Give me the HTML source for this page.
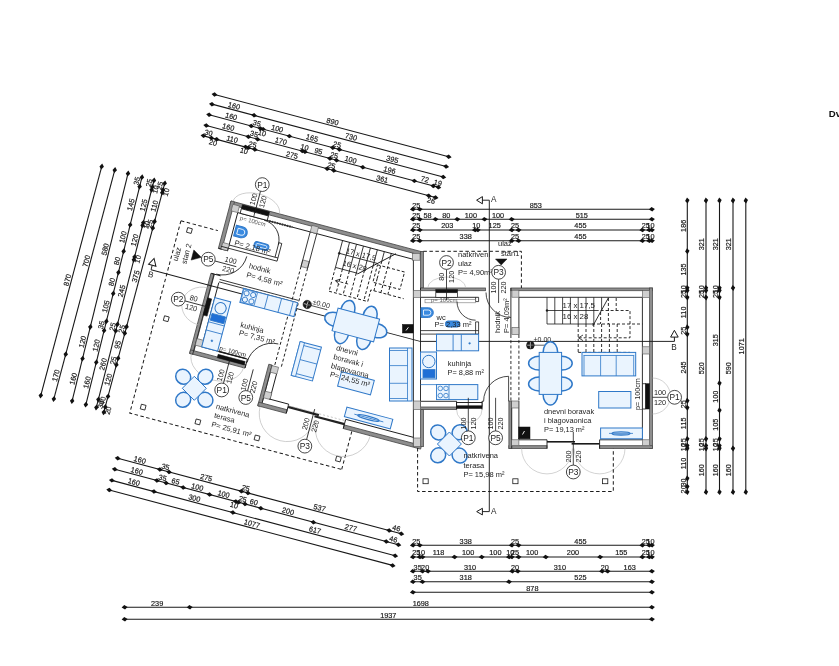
<!DOCTYPE html>
<html><head><meta charset="utf-8"><style>
html,body{margin:0;padding:0;background:#fff;overflow:hidden}
svg{display:block;will-change:transform}
text{font-family:"Liberation Sans",sans-serif}
</style></head><body>
<svg width="839" height="666" viewBox="0 0 839 666" font-family="Liberation Sans, sans-serif"><rect width="839" height="666" fill="#fff"/><g transform="translate(231.0 201.0) rotate(14.9)"><line x1="-43.3" y1="-98.7" x2="198.96" y2="-98.7" stroke="#181818" stroke-width="1.1"/><polygon points="-46.3,-98.4 -43.7,-100.9 -40.3,-99 -42.9,-96.5" fill="#111" stroke="none" stroke-width="0"/><polygon points="195.96,-98.4 198.56,-100.9 201.96,-99 199.36,-96.5" fill="#111" stroke="none" stroke-width="0"/><text x="77.83" y="-100.3" font-size="7.3" fill="#1a1a1a" text-anchor="middle" font-weight="normal" stroke="#1a1a1a" stroke-width="0.18">890</text><line x1="-43.3" y1="-88.7" x2="198.96" y2="-88.7" stroke="#181818" stroke-width="1.1"/><polygon points="-46.3,-88.4 -43.7,-90.9 -40.3,-89 -42.9,-86.5" fill="#111" stroke="none" stroke-width="0"/><polygon points="-2.75,-88.4 -0.15,-90.9 3.25,-89 0.65,-86.5" fill="#111" stroke="none" stroke-width="0"/><polygon points="195.96,-88.4 198.56,-90.9 201.96,-89 199.36,-86.5" fill="#111" stroke="none" stroke-width="0"/><text x="-21.52" y="-90.3" font-size="7.3" fill="#1a1a1a" text-anchor="middle" font-weight="normal" stroke="#1a1a1a" stroke-width="0.18">160</text><text x="99.61" y="-90.3" font-size="7.3" fill="#1a1a1a" text-anchor="middle" font-weight="normal" stroke="#1a1a1a" stroke-width="0.18">730</text><line x1="-43.3" y1="-77.7" x2="198.96" y2="-77.7" stroke="#181818" stroke-width="1.1"/><polygon points="-46.3,-77.4 -43.7,-79.9 -40.3,-78 -42.9,-75.5" fill="#111" stroke="none" stroke-width="0"/><polygon points="-2.75,-77.4 -0.15,-79.9 3.25,-78 0.65,-75.5" fill="#111" stroke="none" stroke-width="0"/><polygon points="6.78,-77.4 9.38,-79.9 12.78,-78 10.18,-75.5" fill="#111" stroke="none" stroke-width="0"/><polygon points="9.5,-77.4 12.1,-79.9 15.5,-78 12.9,-75.5" fill="#111" stroke="none" stroke-width="0"/><polygon points="36.72,-77.4 39.32,-79.9 42.72,-78 40.12,-75.5" fill="#111" stroke="none" stroke-width="0"/><polygon points="81.63,-77.4 84.23,-79.9 87.63,-78 85.03,-75.5" fill="#111" stroke="none" stroke-width="0"/><polygon points="88.44,-77.4 91.04,-79.9 94.44,-78 91.84,-75.5" fill="#111" stroke="none" stroke-width="0"/><polygon points="195.96,-77.4 198.56,-79.9 201.96,-78 199.36,-75.5" fill="#111" stroke="none" stroke-width="0"/><text x="-21.52" y="-79.3" font-size="7.3" fill="#1a1a1a" text-anchor="middle" font-weight="normal" stroke="#1a1a1a" stroke-width="0.18">160</text><text x="5.02" y="-79.3" font-size="7.3" fill="#1a1a1a" text-anchor="middle" font-weight="normal" stroke="#1a1a1a" stroke-width="0.18">35</text><text x="12.64" y="-71.2" font-size="7.3" fill="#1a1a1a" text-anchor="middle" font-weight="normal" stroke="#1a1a1a" stroke-width="0.18">10</text><text x="26.11" y="-79.3" font-size="7.3" fill="#1a1a1a" text-anchor="middle" font-weight="normal" stroke="#1a1a1a" stroke-width="0.18">100</text><text x="62.18" y="-79.3" font-size="7.3" fill="#1a1a1a" text-anchor="middle" font-weight="normal" stroke="#1a1a1a" stroke-width="0.18">165</text><text x="88.04" y="-79.3" font-size="7.3" fill="#1a1a1a" text-anchor="middle" font-weight="normal" stroke="#1a1a1a" stroke-width="0.18">25</text><text x="145.2" y="-79.3" font-size="7.3" fill="#1a1a1a" text-anchor="middle" font-weight="normal" stroke="#1a1a1a" stroke-width="0.18">395</text><line x1="-43.3" y1="-66.6" x2="196.78" y2="-66.6" stroke="#181818" stroke-width="1.1"/><polygon points="-46.3,-66.3 -43.7,-68.8 -40.3,-66.9 -42.9,-64.4" fill="#111" stroke="none" stroke-width="0"/><polygon points="-2.75,-66.3 -0.15,-68.8 3.25,-66.9 0.65,-64.4" fill="#111" stroke="none" stroke-width="0"/><polygon points="6.78,-66.3 9.38,-68.8 12.78,-66.9 10.18,-64.4" fill="#111" stroke="none" stroke-width="0"/><polygon points="53.05,-66.3 55.65,-68.8 59.05,-66.9 56.45,-64.4" fill="#111" stroke="none" stroke-width="0"/><polygon points="55.78,-66.3 58.38,-68.8 61.78,-66.9 59.18,-64.4" fill="#111" stroke="none" stroke-width="0"/><polygon points="81.63,-66.3 84.23,-68.8 87.63,-66.9 85.03,-64.4" fill="#111" stroke="none" stroke-width="0"/><polygon points="88.44,-66.3 91.04,-68.8 94.44,-66.9 91.84,-64.4" fill="#111" stroke="none" stroke-width="0"/><polygon points="115.66,-66.3 118.26,-68.8 121.66,-66.9 119.06,-64.4" fill="#111" stroke="none" stroke-width="0"/><polygon points="169.01,-66.3 171.61,-68.8 175.01,-66.9 172.41,-64.4" fill="#111" stroke="none" stroke-width="0"/><polygon points="188.61,-66.3 191.21,-68.8 194.61,-66.9 192.01,-64.4" fill="#111" stroke="none" stroke-width="0"/><polygon points="193.78,-66.3 196.38,-68.8 199.78,-66.9 197.18,-64.4" fill="#111" stroke="none" stroke-width="0"/><text x="-21.52" y="-68.2" font-size="7.3" fill="#1a1a1a" text-anchor="middle" font-weight="normal" stroke="#1a1a1a" stroke-width="0.18">160</text><text x="5.02" y="-68.2" font-size="7.3" fill="#1a1a1a" text-anchor="middle" font-weight="normal" stroke="#1a1a1a" stroke-width="0.18">35</text><text x="32.92" y="-68.2" font-size="7.3" fill="#1a1a1a" text-anchor="middle" font-weight="normal" stroke="#1a1a1a" stroke-width="0.18">170</text><text x="57.41" y="-68.2" font-size="7.3" fill="#1a1a1a" text-anchor="middle" font-weight="normal" stroke="#1a1a1a" stroke-width="0.18">10</text><text x="71.7" y="-68.2" font-size="7.3" fill="#1a1a1a" text-anchor="middle" font-weight="normal" stroke="#1a1a1a" stroke-width="0.18">95</text><text x="88.04" y="-68.2" font-size="7.3" fill="#1a1a1a" text-anchor="middle" font-weight="normal" stroke="#1a1a1a" stroke-width="0.18">25</text><text x="105.05" y="-68.2" font-size="7.3" fill="#1a1a1a" text-anchor="middle" font-weight="normal" stroke="#1a1a1a" stroke-width="0.18">100</text><text x="145.33" y="-68.2" font-size="7.3" fill="#1a1a1a" text-anchor="middle" font-weight="normal" stroke="#1a1a1a" stroke-width="0.18">196</text><text x="181.81" y="-68.2" font-size="7.3" fill="#1a1a1a" text-anchor="middle" font-weight="normal" stroke="#1a1a1a" stroke-width="0.18">72</text><text x="195.19" y="-68.2" font-size="7.3" fill="#1a1a1a" text-anchor="middle" font-weight="normal" stroke="#1a1a1a" stroke-width="0.18">19</text><line x1="-43.3" y1="-55.9" x2="196.78" y2="-55.9" stroke="#181818" stroke-width="1.1"/><polygon points="-46.3,-55.6 -43.7,-58.1 -40.3,-56.2 -42.9,-53.7" fill="#111" stroke="none" stroke-width="0"/><polygon points="-38.13,-55.6 -35.53,-58.1 -32.13,-56.2 -34.73,-53.7" fill="#111" stroke="none" stroke-width="0"/><polygon points="-32.69,-55.6 -30.09,-58.1 -26.69,-56.2 -29.29,-53.7" fill="#111" stroke="none" stroke-width="0"/><polygon points="-2.75,-55.6 -0.15,-58.1 3.25,-56.2 0.65,-53.7" fill="#111" stroke="none" stroke-width="0"/><polygon points="-0.03,-55.6 2.57,-58.1 5.97,-56.2 3.37,-53.7" fill="#111" stroke="none" stroke-width="0"/><polygon points="6.78,-55.6 9.38,-58.1 12.78,-56.2 10.18,-53.7" fill="#111" stroke="none" stroke-width="0"/><polygon points="81.63,-55.6 84.23,-58.1 87.63,-56.2 85.03,-53.7" fill="#111" stroke="none" stroke-width="0"/><polygon points="88.44,-55.6 91.04,-58.1 94.44,-56.2 91.84,-53.7" fill="#111" stroke="none" stroke-width="0"/><polygon points="186.7,-55.6 189.3,-58.1 192.7,-56.2 190.1,-53.7" fill="#111" stroke="none" stroke-width="0"/><polygon points="193.78,-55.6 196.38,-58.1 199.78,-56.2 197.18,-53.7" fill="#111" stroke="none" stroke-width="0"/><text x="-39.22" y="-57.5" font-size="7.3" fill="#1a1a1a" text-anchor="middle" font-weight="normal" stroke="#1a1a1a" stroke-width="0.18">30</text><text x="-32.41" y="-49.4" font-size="7.3" fill="#1a1a1a" text-anchor="middle" font-weight="normal" stroke="#1a1a1a" stroke-width="0.18">20</text><text x="-14.72" y="-57.5" font-size="7.3" fill="#1a1a1a" text-anchor="middle" font-weight="normal" stroke="#1a1a1a" stroke-width="0.18">110</text><text x="-0.39" y="-49.4" font-size="7.3" fill="#1a1a1a" text-anchor="middle" font-weight="normal" stroke="#1a1a1a" stroke-width="0.18">10</text><text x="6.38" y="-57.5" font-size="7.3" fill="#1a1a1a" text-anchor="middle" font-weight="normal" stroke="#1a1a1a" stroke-width="0.18">25</text><text x="47.21" y="-57.5" font-size="7.3" fill="#1a1a1a" text-anchor="middle" font-weight="normal" stroke="#1a1a1a" stroke-width="0.18">275</text><text x="88.04" y="-57.5" font-size="7.3" fill="#1a1a1a" text-anchor="middle" font-weight="normal" stroke="#1a1a1a" stroke-width="0.18">25</text><text x="140.57" y="-57.5" font-size="7.3" fill="#1a1a1a" text-anchor="middle" font-weight="normal" stroke="#1a1a1a" stroke-width="0.18">361</text><text x="193.24" y="-49.4" font-size="7.3" fill="#1a1a1a" text-anchor="middle" font-weight="normal" stroke="#1a1a1a" stroke-width="0.18">26</text><line x1="-133.8" y1="0" x2="-133.8" y2="236.81" stroke="#181818" stroke-width="1.1"/><polygon points="-134.1,-3 -131.6,-0.4 -133.5,3 -136,0.4" fill="#111" stroke="none" stroke-width="0"/><polygon points="-134.1,233.81 -131.6,236.41 -133.5,239.81 -136,237.21" fill="#111" stroke="none" stroke-width="0"/><text x="-135.4" y="118.41" font-size="7.3" fill="#1a1a1a" text-anchor="middle" font-weight="normal" transform="rotate(-90 -135.4 118.41)" stroke="#1a1a1a" stroke-width="0.18">870</text><line x1="-120.3" y1="0" x2="-120.3" y2="236.81" stroke="#181818" stroke-width="1.1"/><polygon points="-120.6,-3 -118.1,-0.4 -120,3 -122.5,0.4" fill="#111" stroke="none" stroke-width="0"/><polygon points="-120.6,187.54 -118.1,190.14 -120,193.54 -122.5,190.94" fill="#111" stroke="none" stroke-width="0"/><polygon points="-120.6,233.81 -118.1,236.41 -120,239.81 -122.5,237.21" fill="#111" stroke="none" stroke-width="0"/><text x="-121.9" y="95.27" font-size="7.3" fill="#1a1a1a" text-anchor="middle" font-weight="normal" transform="rotate(-90 -121.9 95.27)" stroke="#1a1a1a" stroke-width="0.18">700</text><text x="-121.9" y="213.68" font-size="7.3" fill="#1a1a1a" text-anchor="middle" font-weight="normal" transform="rotate(-90 -121.9 213.68)" stroke="#1a1a1a" stroke-width="0.18">170</text><g transform="rotate(-1.1 -106.6 0)"><line x1="-106.6" y1="0" x2="-106.6" y2="234.09" stroke="#181818" stroke-width="1.1"/><polygon points="-106.9,-3 -104.4,-0.4 -106.3,3 -108.8,0.4" fill="#111" stroke="none" stroke-width="0"/><polygon points="-106.9,154.88 -104.4,157.48 -106.3,160.88 -108.8,158.28" fill="#111" stroke="none" stroke-width="0"/><polygon points="-106.9,187.54 -104.4,190.14 -106.3,193.54 -108.8,190.94" fill="#111" stroke="none" stroke-width="0"/><polygon points="-106.9,231.09 -104.4,233.69 -106.3,237.09 -108.8,234.49" fill="#111" stroke="none" stroke-width="0"/><text x="-108.2" y="78.94" font-size="7.3" fill="#1a1a1a" text-anchor="middle" font-weight="normal" transform="rotate(-90 -108.2 78.94)" stroke="#1a1a1a" stroke-width="0.18">580</text><text x="-108.2" y="174.21" font-size="7.3" fill="#1a1a1a" text-anchor="middle" font-weight="normal" transform="rotate(-90 -108.2 174.21)" stroke="#1a1a1a" stroke-width="0.18">120</text><text x="-108.2" y="212.32" font-size="7.3" fill="#1a1a1a" text-anchor="middle" font-weight="normal" transform="rotate(-90 -108.2 212.32)" stroke="#1a1a1a" stroke-width="0.18">160</text></g><g transform="rotate(-1.05 -92.2 0)"><line x1="-92.2" y1="0" x2="-92.2" y2="234.09" stroke="#181818" stroke-width="1.1"/><polygon points="-92.5,-3 -90,-0.4 -91.9,3 -94.4,0.4" fill="#111" stroke="none" stroke-width="0"/><polygon points="-92.5,6.53 -90,9.13 -91.9,12.53 -94.4,9.93" fill="#111" stroke="none" stroke-width="0"/><polygon points="-92.5,46 -90,48.6 -91.9,52 -94.4,49.4" fill="#111" stroke="none" stroke-width="0"/><polygon points="-92.5,73.22 -90,75.82 -91.9,79.22 -94.4,76.62" fill="#111" stroke="none" stroke-width="0"/><polygon points="-92.5,94.99 -90,97.59 -91.9,100.99 -94.4,98.39" fill="#111" stroke="none" stroke-width="0"/><polygon points="-92.5,116.77 -90,119.37 -91.9,122.77 -94.4,120.17" fill="#111" stroke="none" stroke-width="0"/><polygon points="-92.5,145.35 -90,147.95 -91.9,151.35 -94.4,148.75" fill="#111" stroke="none" stroke-width="0"/><polygon points="-92.5,154.88 -90,157.48 -91.9,160.88 -94.4,158.28" fill="#111" stroke="none" stroke-width="0"/><polygon points="-92.5,187.54 -90,190.14 -91.9,193.54 -94.4,190.94" fill="#111" stroke="none" stroke-width="0"/><polygon points="-92.5,231.09 -90,233.69 -91.9,237.09 -94.4,234.49" fill="#111" stroke="none" stroke-width="0"/><text x="-93.8" y="4.76" font-size="7.3" fill="#1a1a1a" text-anchor="middle" font-weight="normal" transform="rotate(-90 -93.8 4.76)" stroke="#1a1a1a" stroke-width="0.18">35</text><text x="-93.8" y="29.26" font-size="7.3" fill="#1a1a1a" text-anchor="middle" font-weight="normal" transform="rotate(-90 -93.8 29.26)" stroke="#1a1a1a" stroke-width="0.18">145</text><text x="-93.8" y="62.61" font-size="7.3" fill="#1a1a1a" text-anchor="middle" font-weight="normal" transform="rotate(-90 -93.8 62.61)" stroke="#1a1a1a" stroke-width="0.18">100</text><text x="-93.8" y="87.1" font-size="7.3" fill="#1a1a1a" text-anchor="middle" font-weight="normal" transform="rotate(-90 -93.8 87.1)" stroke="#1a1a1a" stroke-width="0.18">80</text><text x="-93.8" y="108.88" font-size="7.3" fill="#1a1a1a" text-anchor="middle" font-weight="normal" transform="rotate(-90 -93.8 108.88)" stroke="#1a1a1a" stroke-width="0.18">80</text><text x="-93.8" y="134.06" font-size="7.3" fill="#1a1a1a" text-anchor="middle" font-weight="normal" transform="rotate(-90 -93.8 134.06)" stroke="#1a1a1a" stroke-width="0.18">105</text><text x="-93.8" y="153.11" font-size="7.3" fill="#1a1a1a" text-anchor="middle" font-weight="normal" transform="rotate(-90 -93.8 153.11)" stroke="#1a1a1a" stroke-width="0.18">35</text><text x="-93.8" y="174.21" font-size="7.3" fill="#1a1a1a" text-anchor="middle" font-weight="normal" transform="rotate(-90 -93.8 174.21)" stroke="#1a1a1a" stroke-width="0.18">120</text><text x="-93.8" y="212.32" font-size="7.3" fill="#1a1a1a" text-anchor="middle" font-weight="normal" transform="rotate(-90 -93.8 212.32)" stroke="#1a1a1a" stroke-width="0.18">160</text></g><g transform="rotate(-0.65 -79.7 0)"><line x1="-79.7" y1="0" x2="-79.7" y2="234.09" stroke="#181818" stroke-width="1.1"/><polygon points="-80,-3 -77.5,-0.4 -79.4,3 -81.9,0.4" fill="#111" stroke="none" stroke-width="0"/><polygon points="-80,3.8 -77.5,6.4 -79.4,9.8 -81.9,7.21" fill="#111" stroke="none" stroke-width="0"/><polygon points="-80,6.53 -77.5,9.13 -79.4,12.53 -81.9,9.93" fill="#111" stroke="none" stroke-width="0"/><polygon points="-80,40.55 -77.5,43.15 -79.4,46.55 -81.9,43.95" fill="#111" stroke="none" stroke-width="0"/><polygon points="-80,43.27 -77.5,45.87 -79.4,49.27 -81.9,46.67" fill="#111" stroke="none" stroke-width="0"/><polygon points="-80,75.94 -77.5,78.54 -79.4,81.94 -81.9,79.34" fill="#111" stroke="none" stroke-width="0"/><polygon points="-80,78.66 -77.5,81.26 -79.4,84.66 -81.9,82.06" fill="#111" stroke="none" stroke-width="0"/><polygon points="-80,145.35 -77.5,147.95 -79.4,151.35 -81.9,148.75" fill="#111" stroke="none" stroke-width="0"/><polygon points="-80,152.15 -77.5,154.75 -79.4,158.15 -81.9,155.55" fill="#111" stroke="none" stroke-width="0"/><polygon points="-80,222.93 -77.5,225.53 -79.4,228.93 -81.9,226.33" fill="#111" stroke="none" stroke-width="0"/><polygon points="-80,231.09 -77.5,233.69 -79.4,237.09 -81.9,234.49" fill="#111" stroke="none" stroke-width="0"/><text x="-81.3" y="3.4" font-size="7.3" fill="#1a1a1a" text-anchor="middle" font-weight="normal" transform="rotate(-90 -81.3 3.4)" stroke="#1a1a1a" stroke-width="0.18">25</text><text x="-73.5" y="8.17" font-size="7.3" fill="#1a1a1a" text-anchor="middle" font-weight="normal" transform="rotate(-90 -73.5 8.17)" stroke="#1a1a1a" stroke-width="0.18">10</text><text x="-81.3" y="26.54" font-size="7.3" fill="#1a1a1a" text-anchor="middle" font-weight="normal" transform="rotate(-90 -81.3 26.54)" stroke="#1a1a1a" stroke-width="0.18">125</text><text x="-73.5" y="44.91" font-size="7.3" fill="#1a1a1a" text-anchor="middle" font-weight="normal" transform="rotate(-90 -73.5 44.91)" stroke="#1a1a1a" stroke-width="0.18">10</text><text x="-81.3" y="62.61" font-size="7.3" fill="#1a1a1a" text-anchor="middle" font-weight="normal" transform="rotate(-90 -81.3 62.61)" stroke="#1a1a1a" stroke-width="0.18">120</text><text x="-73.5" y="80.3" font-size="7.3" fill="#1a1a1a" text-anchor="middle" font-weight="normal" transform="rotate(-90 -73.5 80.3)" stroke="#1a1a1a" stroke-width="0.18">10</text><text x="-81.3" y="115" font-size="7.3" fill="#1a1a1a" text-anchor="middle" font-weight="normal" transform="rotate(-90 -81.3 115)" stroke="#1a1a1a" stroke-width="0.18">245</text><text x="-81.3" y="151.75" font-size="7.3" fill="#1a1a1a" text-anchor="middle" font-weight="normal" transform="rotate(-90 -81.3 151.75)" stroke="#1a1a1a" stroke-width="0.18">25</text><text x="-81.3" y="190.54" font-size="7.3" fill="#1a1a1a" text-anchor="middle" font-weight="normal" transform="rotate(-90 -81.3 190.54)" stroke="#1a1a1a" stroke-width="0.18">260</text><text x="-73.5" y="230.01" font-size="7.3" fill="#1a1a1a" text-anchor="middle" font-weight="normal" transform="rotate(-90 -73.5 230.01)" stroke="#1a1a1a" stroke-width="0.18">30</text></g><line x1="-68.6" y1="0" x2="-68.6" y2="236.81" stroke="#181818" stroke-width="1.1"/><polygon points="-68.9,-3 -66.4,-0.4 -68.3,3 -70.8,0.4" fill="#111" stroke="none" stroke-width="0"/><polygon points="-68.9,3.8 -66.4,6.4 -68.3,9.8 -70.8,7.21" fill="#111" stroke="none" stroke-width="0"/><polygon points="-68.9,6.53 -66.4,9.13 -68.3,12.53 -70.8,9.93" fill="#111" stroke="none" stroke-width="0"/><polygon points="-68.9,36.47 -66.4,39.07 -68.3,42.47 -70.8,39.87" fill="#111" stroke="none" stroke-width="0"/><polygon points="-68.9,43.27 -66.4,45.87 -68.3,49.27 -70.8,46.67" fill="#111" stroke="none" stroke-width="0"/><polygon points="-68.9,145.35 -66.4,147.95 -68.3,151.35 -70.8,148.75" fill="#111" stroke="none" stroke-width="0"/><polygon points="-68.9,152.15 -66.4,154.75 -68.3,158.15 -70.8,155.55" fill="#111" stroke="none" stroke-width="0"/><polygon points="-68.9,178.01 -66.4,180.61 -68.3,184.01 -70.8,181.41" fill="#111" stroke="none" stroke-width="0"/><polygon points="-68.9,184.82 -66.4,187.42 -68.3,190.82 -70.8,188.22" fill="#111" stroke="none" stroke-width="0"/><polygon points="-68.9,217.48 -66.4,220.08 -68.3,223.48 -70.8,220.88" fill="#111" stroke="none" stroke-width="0"/><polygon points="-68.9,228.37 -66.4,230.97 -68.3,234.37 -70.8,231.77" fill="#111" stroke="none" stroke-width="0"/><polygon points="-68.9,233.81 -66.4,236.41 -68.3,239.81 -70.8,237.21" fill="#111" stroke="none" stroke-width="0"/><text x="-70.2" y="3.4" font-size="7.3" fill="#1a1a1a" text-anchor="middle" font-weight="normal" transform="rotate(-90 -70.2 3.4)" stroke="#1a1a1a" stroke-width="0.18">25</text><text x="-62.4" y="8.17" font-size="7.3" fill="#1a1a1a" text-anchor="middle" font-weight="normal" transform="rotate(-90 -62.4 8.17)" stroke="#1a1a1a" stroke-width="0.18">10</text><text x="-70.2" y="24.5" font-size="7.3" fill="#1a1a1a" text-anchor="middle" font-weight="normal" transform="rotate(-90 -70.2 24.5)" stroke="#1a1a1a" stroke-width="0.18">110</text><text x="-70.2" y="42.87" font-size="7.3" fill="#1a1a1a" text-anchor="middle" font-weight="normal" transform="rotate(-90 -70.2 42.87)" stroke="#1a1a1a" stroke-width="0.18">25</text><text x="-70.2" y="97.31" font-size="7.3" fill="#1a1a1a" text-anchor="middle" font-weight="normal" transform="rotate(-90 -70.2 97.31)" stroke="#1a1a1a" stroke-width="0.18">375</text><text x="-70.2" y="151.75" font-size="7.3" fill="#1a1a1a" text-anchor="middle" font-weight="normal" transform="rotate(-90 -70.2 151.75)" stroke="#1a1a1a" stroke-width="0.18">25</text><text x="-70.2" y="168.08" font-size="7.3" fill="#1a1a1a" text-anchor="middle" font-weight="normal" transform="rotate(-90 -70.2 168.08)" stroke="#1a1a1a" stroke-width="0.18">95</text><text x="-70.2" y="184.42" font-size="7.3" fill="#1a1a1a" text-anchor="middle" font-weight="normal" transform="rotate(-90 -70.2 184.42)" stroke="#1a1a1a" stroke-width="0.18">25</text><text x="-70.2" y="204.15" font-size="7.3" fill="#1a1a1a" text-anchor="middle" font-weight="normal" transform="rotate(-90 -70.2 204.15)" stroke="#1a1a1a" stroke-width="0.18">120</text><text x="-70.2" y="225.93" font-size="7.3" fill="#1a1a1a" text-anchor="middle" font-weight="normal" transform="rotate(-90 -70.2 225.93)" stroke="#1a1a1a" stroke-width="0.18">40</text><text x="-62.4" y="234.09" font-size="7.3" fill="#1a1a1a" text-anchor="middle" font-weight="normal" transform="rotate(-90 -62.4 234.09)" stroke="#1a1a1a" stroke-width="0.18">20</text><line x1="-43.3" y1="277.8" x2="250.13" y2="277.8" stroke="#181818" stroke-width="1.1"/><polygon points="-46.3,278.1 -43.7,275.6 -40.3,277.5 -42.9,280" fill="#111" stroke="none" stroke-width="0"/><polygon points="-2.75,278.1 -0.15,275.6 3.25,277.5 0.65,280" fill="#111" stroke="none" stroke-width="0"/><polygon points="6.78,278.1 9.38,275.6 12.78,277.5 10.18,280" fill="#111" stroke="none" stroke-width="0"/><polygon points="81.63,278.1 84.23,275.6 87.63,277.5 85.03,280" fill="#111" stroke="none" stroke-width="0"/><polygon points="88.44,278.1 91.04,275.6 94.44,277.5 91.84,280" fill="#111" stroke="none" stroke-width="0"/><polygon points="234.61,278.1 237.21,275.6 240.61,277.5 238.01,280" fill="#111" stroke="none" stroke-width="0"/><polygon points="247.13,278.1 249.73,275.6 253.13,277.5 250.53,280" fill="#111" stroke="none" stroke-width="0"/><text x="-21.52" y="276.2" font-size="7.3" fill="#1a1a1a" text-anchor="middle" font-weight="normal" stroke="#1a1a1a" stroke-width="0.18">160</text><text x="5.02" y="276.2" font-size="7.3" fill="#1a1a1a" text-anchor="middle" font-weight="normal" stroke="#1a1a1a" stroke-width="0.18">35</text><text x="47.21" y="276.2" font-size="7.3" fill="#1a1a1a" text-anchor="middle" font-weight="normal" stroke="#1a1a1a" stroke-width="0.18">275</text><text x="88.04" y="276.2" font-size="7.3" fill="#1a1a1a" text-anchor="middle" font-weight="normal" stroke="#1a1a1a" stroke-width="0.18">25</text><text x="164.52" y="276.2" font-size="7.3" fill="#1a1a1a" text-anchor="middle" font-weight="normal" stroke="#1a1a1a" stroke-width="0.18">537</text><text x="243.87" y="276.2" font-size="7.3" fill="#1a1a1a" text-anchor="middle" font-weight="normal" stroke="#1a1a1a" stroke-width="0.18">46</text><line x1="-43.3" y1="289.2" x2="250.13" y2="289.2" stroke="#181818" stroke-width="1.1"/><polygon points="-46.3,289.5 -43.7,287 -40.3,288.9 -42.9,291.4" fill="#111" stroke="none" stroke-width="0"/><polygon points="-2.75,289.5 -0.15,287 3.25,288.9 0.65,291.4" fill="#111" stroke="none" stroke-width="0"/><polygon points="6.78,289.5 9.38,287 12.78,288.9 10.18,291.4" fill="#111" stroke="none" stroke-width="0"/><polygon points="24.47,289.5 27.07,287 30.47,288.9 27.87,291.4" fill="#111" stroke="none" stroke-width="0"/><polygon points="51.69,289.5 54.29,287 57.69,288.9 55.09,291.4" fill="#111" stroke="none" stroke-width="0"/><polygon points="78.91,289.5 81.51,287 84.91,288.9 82.31,291.4" fill="#111" stroke="none" stroke-width="0"/><polygon points="81.63,289.5 84.23,287 87.63,288.9 85.03,291.4" fill="#111" stroke="none" stroke-width="0"/><polygon points="88.44,289.5 91.04,287 94.44,288.9 91.84,291.4" fill="#111" stroke="none" stroke-width="0"/><polygon points="104.77,289.5 107.37,287 110.77,288.9 108.17,291.4" fill="#111" stroke="none" stroke-width="0"/><polygon points="159.21,289.5 161.81,287 165.21,288.9 162.61,291.4" fill="#111" stroke="none" stroke-width="0"/><polygon points="234.61,289.5 237.21,287 240.61,288.9 238.01,291.4" fill="#111" stroke="none" stroke-width="0"/><polygon points="247.13,289.5 249.73,287 253.13,288.9 250.53,291.4" fill="#111" stroke="none" stroke-width="0"/><text x="-21.52" y="287.6" font-size="7.3" fill="#1a1a1a" text-anchor="middle" font-weight="normal" stroke="#1a1a1a" stroke-width="0.18">160</text><text x="5.02" y="287.6" font-size="7.3" fill="#1a1a1a" text-anchor="middle" font-weight="normal" stroke="#1a1a1a" stroke-width="0.18">35</text><text x="18.63" y="287.6" font-size="7.3" fill="#1a1a1a" text-anchor="middle" font-weight="normal" stroke="#1a1a1a" stroke-width="0.18">65</text><text x="41.08" y="287.6" font-size="7.3" fill="#1a1a1a" text-anchor="middle" font-weight="normal" stroke="#1a1a1a" stroke-width="0.18">100</text><text x="68.3" y="287.6" font-size="7.3" fill="#1a1a1a" text-anchor="middle" font-weight="normal" stroke="#1a1a1a" stroke-width="0.18">100</text><text x="81.27" y="295.7" font-size="7.3" fill="#1a1a1a" text-anchor="middle" font-weight="normal" stroke="#1a1a1a" stroke-width="0.18">10</text><text x="88.04" y="287.6" font-size="7.3" fill="#1a1a1a" text-anchor="middle" font-weight="normal" stroke="#1a1a1a" stroke-width="0.18">25</text><text x="99.6" y="287.6" font-size="7.3" fill="#1a1a1a" text-anchor="middle" font-weight="normal" stroke="#1a1a1a" stroke-width="0.18">60</text><text x="134.99" y="287.6" font-size="7.3" fill="#1a1a1a" text-anchor="middle" font-weight="normal" stroke="#1a1a1a" stroke-width="0.18">200</text><text x="199.91" y="287.6" font-size="7.3" fill="#1a1a1a" text-anchor="middle" font-weight="normal" stroke="#1a1a1a" stroke-width="0.18">277</text><text x="243.87" y="287.6" font-size="7.3" fill="#1a1a1a" text-anchor="middle" font-weight="normal" stroke="#1a1a1a" stroke-width="0.18">46</text><line x1="-43.3" y1="300.6" x2="249.86" y2="300.6" stroke="#181818" stroke-width="1.1"/><polygon points="-46.3,300.9 -43.7,298.4 -40.3,300.3 -42.9,302.8" fill="#111" stroke="none" stroke-width="0"/><polygon points="-2.75,300.9 -0.15,298.4 3.25,300.3 0.65,302.8" fill="#111" stroke="none" stroke-width="0"/><polygon points="78.91,300.9 81.51,298.4 84.91,300.3 82.31,302.8" fill="#111" stroke="none" stroke-width="0"/><polygon points="246.86,300.9 249.46,298.4 252.86,300.3 250.26,302.8" fill="#111" stroke="none" stroke-width="0"/><text x="-21.52" y="299" font-size="7.3" fill="#1a1a1a" text-anchor="middle" font-weight="normal" stroke="#1a1a1a" stroke-width="0.18">160</text><text x="41.08" y="299" font-size="7.3" fill="#1a1a1a" text-anchor="middle" font-weight="normal" stroke="#1a1a1a" stroke-width="0.18">300</text><text x="165.89" y="299" font-size="7.3" fill="#1a1a1a" text-anchor="middle" font-weight="normal" stroke="#1a1a1a" stroke-width="0.18">617</text><line x1="-43.3" y1="310.6" x2="249.86" y2="310.6" stroke="#181818" stroke-width="1.1"/><polygon points="-46.3,310.9 -43.7,308.4 -40.3,310.3 -42.9,312.8" fill="#111" stroke="none" stroke-width="0"/><polygon points="246.86,310.9 249.46,308.4 252.86,310.3 250.26,312.8" fill="#111" stroke="none" stroke-width="0"/><text x="103.28" y="309" font-size="7.3" fill="#1a1a1a" text-anchor="middle" font-weight="normal" stroke="#1a1a1a" stroke-width="0.18">1077</text><polygon points="0,0 198.9,0 196,3.6 0,3.6" fill="#8e8e8e" stroke="#4a4a4a" stroke-width="0.8"/><rect x="0" y="0" width="3.6" height="49" fill="#8e8e8e" stroke="#4a4a4a" stroke-width="0.8"/><rect x="-0.8" y="75" width="3.6" height="83" fill="#8e8e8e" stroke="#4a4a4a" stroke-width="0.8"/><rect x="-0.8" y="154.3" width="57.3" height="3.6" fill="#8e8e8e" stroke="#4a4a4a" stroke-width="0.8"/><rect x="78.5" y="148" width="3.5" height="43" fill="#8e8e8e" stroke="#4a4a4a" stroke-width="0.8"/><line x1="9.5" y1="9.5" x2="191.3" y2="9.5" stroke="#1a1a1a" stroke-width="0.9"/><line x1="9.5" y1="9.5" x2="9.5" y2="46" stroke="#1a1a1a" stroke-width="0.9"/><line x1="2.4" y1="75" x2="2.4" y2="157.7" stroke="#1a1a1a" stroke-width="0.7"/><line x1="9.2" y1="82" x2="9.2" y2="148.5" stroke="#1a1a1a" stroke-width="0.9"/><line x1="9.2" y1="148.5" x2="56.5" y2="148.5" stroke="#1a1a1a" stroke-width="0.9"/><line x1="56.5" y1="148.5" x2="56.5" y2="157.7" stroke="#1a1a1a" stroke-width="0.9"/><line x1="82" y1="148" x2="82" y2="187.3" stroke="#1a1a1a" stroke-width="0.7"/><line x1="88.5" y1="155" x2="88.5" y2="181.5" stroke="#1a1a1a" stroke-width="0.9"/><line x1="0" y1="49" x2="9.5" y2="49" stroke="#1a1a1a" stroke-width="0.9"/><line x1="-0.3" y1="75" x2="9.2" y2="75" stroke="#1a1a1a" stroke-width="0.9"/><rect x="12" y="0.6" width="28" height="4.2" fill="#111" stroke="#111" stroke-width="0.5"/><rect x="12" y="4.8" width="28" height="4.7" fill="#fff" stroke="#111" stroke-width="0.8"/><line x1="26" y1="4.8" x2="26" y2="9.5" stroke="#1a1a1a" stroke-width="0.7"/><line x1="42" y1="9.5" x2="66" y2="9.5" stroke="#333" stroke-width="2.0" stroke-dasharray="1.6,1"/><polygon points="2.4,99.6 6.5,99.6 6.5,117.4 2.4,117.4" fill="#111" stroke="#111" stroke-width="0.5"/><polygon points="27,151.5 55,151.5 55,155 27,155" fill="#111" stroke="#111" stroke-width="0.5"/><line x1="27" y1="148.5" x2="55" y2="148.5" stroke="#1a1a1a" stroke-width="1.4"/><rect x="2.7" y="2.7" width="6.8" height="6.8" fill="#cfcfcf" stroke="#555" stroke-width="0.6"/><rect x="84.5" y="2.7" width="6.8" height="6.8" fill="#cfcfcf" stroke="#555" stroke-width="0.6"/><rect x="84.5" y="38.5" width="6.8" height="6.8" fill="#cfcfcf" stroke="#555" stroke-width="0.6"/><rect x="2.7" y="42.2" width="6.8" height="6.8" fill="#cfcfcf" stroke="#555" stroke-width="0.6"/><rect x="2.5" y="141.7" width="6.8" height="6.8" fill="#cfcfcf" stroke="#555" stroke-width="0.6"/><rect x="82" y="148.5" width="6.8" height="6.8" fill="#cfcfcf" stroke="#555" stroke-width="0.6"/><rect x="82" y="175" width="6.8" height="6.8" fill="#cfcfcf" stroke="#555" stroke-width="0.6"/><line x1="9.5" y1="43" x2="60" y2="43" stroke="#1a1a1a" stroke-width="0.8"/><line x1="2" y1="46.3" x2="60" y2="46.3" stroke="#1a1a1a" stroke-width="0.8"/><line x1="57" y1="28" x2="57" y2="43" stroke="#1a1a1a" stroke-width="0.8"/><line x1="60" y1="28" x2="60" y2="46.3" stroke="#1a1a1a" stroke-width="0.8"/><line x1="57" y1="28" x2="60" y2="28" stroke="#1a1a1a" stroke-width="0.8"/><line x1="84.5" y1="9.5" x2="84.5" y2="45.3" stroke="#1a1a1a" stroke-width="0.8"/><line x1="91.3" y1="9.5" x2="91.3" y2="45.3" stroke="#1a1a1a" stroke-width="0.8"/><line x1="84.5" y1="45.3" x2="84.5" y2="148" stroke="#1a1a1a" stroke-width="0.9" stroke-dasharray="3,2.2"/><line x1="91.3" y1="45.3" x2="91.3" y2="148" stroke="#1a1a1a" stroke-width="0.9" stroke-dasharray="3,2.2"/><line x1="9.2" y1="78.7" x2="90.5" y2="78.7" stroke="#1a1a1a" stroke-width="0.8"/><line x1="9.2" y1="81.2" x2="90.5" y2="81.2" stroke="#1a1a1a" stroke-width="0.8"/><path d="M37,10 A20,20 0 0 1 57,30" fill="none" stroke="#1a1a1a" stroke-width="0.8"/><path d="M29.5,49.5 A25,25 0 0 1 4.5,74.5" fill="none" stroke="#1a1a1a" stroke-width="0.8"/><path d="M57,152 A26,26 0 0 1 82.5,126" fill="none" stroke="#1a1a1a" stroke-width="0.8"/><path d="M2,0 A24,14 0 0 1 50,0" fill="none" stroke="#b5b5b5" stroke-width="0.6"/><path d="M-0.3,90 A21,19 0 0 0 -0.3,128" fill="none" stroke="#b5b5b5" stroke-width="0.6"/><path d="M1,157.7 A27,20 0 0 0 55,157.7" fill="none" stroke="#b5b5b5" stroke-width="0.6"/><line x1="118" y1="9.5" x2="118" y2="37.3" stroke="#1a1a1a" stroke-width="0.8"/><line x1="125.2" y1="9.5" x2="125.2" y2="37.3" stroke="#1a1a1a" stroke-width="0.8"/><line x1="132.4" y1="9.5" x2="132.4" y2="37.3" stroke="#1a1a1a" stroke-width="0.8"/><line x1="139.6" y1="9.5" x2="139.6" y2="37.3" stroke="#1a1a1a" stroke-width="0.8"/><line x1="146.8" y1="9.5" x2="146.8" y2="32.66" stroke="#1a1a1a" stroke-width="0.8"/><line x1="146.8" y1="32.66" x2="146.8" y2="37.3" stroke="#1a1a1a" stroke-width="0.9" stroke-dasharray="3,2"/><line x1="154" y1="9.5" x2="154" y2="26.02" stroke="#1a1a1a" stroke-width="0.8"/><line x1="154" y1="26.02" x2="154" y2="37.3" stroke="#1a1a1a" stroke-width="0.9" stroke-dasharray="3,2"/><line x1="161.2" y1="9.5" x2="161.2" y2="19.38" stroke="#1a1a1a" stroke-width="0.8"/><line x1="161.2" y1="19.38" x2="161.2" y2="37.3" stroke="#1a1a1a" stroke-width="0.9" stroke-dasharray="3,2"/><line x1="168.4" y1="9.5" x2="168.4" y2="12.74" stroke="#1a1a1a" stroke-width="0.8"/><line x1="168.4" y1="12.74" x2="168.4" y2="37.3" stroke="#1a1a1a" stroke-width="0.9" stroke-dasharray="3,2"/><line x1="118" y1="22.7" x2="157.6" y2="22.7" stroke="#1a1a1a" stroke-width="0.8"/><circle cx="118" cy="22.7" r="1.1" fill="#1a1a1a" stroke="#1a1a1a" stroke-width="0.3"/><line x1="118" y1="37.3" x2="141" y2="37.3" stroke="#1a1a1a" stroke-width="0.8"/><line x1="173" y1="8.5" x2="141" y2="38" stroke="#1a1a1a" stroke-width="0.9"/><text x="124" y="20.8" font-size="7.5" fill="#222" text-anchor="start" font-weight="normal">17 x 17,5</text><text x="124" y="33.4" font-size="7.5" fill="#222" text-anchor="start" font-weight="normal">16 x 28</text><line x1="125.2" y1="37.3" x2="125.2" y2="62" stroke="#1a1a1a" stroke-width="0.9" stroke-dasharray="3,2"/><line x1="132.4" y1="37.3" x2="132.4" y2="62" stroke="#1a1a1a" stroke-width="0.9" stroke-dasharray="3,2"/><line x1="139.6" y1="37.3" x2="139.6" y2="62" stroke="#1a1a1a" stroke-width="0.9" stroke-dasharray="3,2"/><line x1="146.8" y1="37.3" x2="146.8" y2="62" stroke="#1a1a1a" stroke-width="0.9" stroke-dasharray="3,2"/><line x1="154" y1="37.3" x2="154" y2="62" stroke="#1a1a1a" stroke-width="0.9" stroke-dasharray="3,2"/><line x1="161.2" y1="37.3" x2="161.2" y2="50" stroke="#1a1a1a" stroke-width="0.9" stroke-dasharray="3,2"/><line x1="168.4" y1="37.3" x2="168.4" y2="50" stroke="#1a1a1a" stroke-width="0.9" stroke-dasharray="3,2"/><line x1="175.6" y1="37.3" x2="175.6" y2="50" stroke="#1a1a1a" stroke-width="0.9" stroke-dasharray="3,2"/><line x1="118" y1="37.3" x2="118" y2="62" stroke="#1a1a1a" stroke-width="0.9" stroke-dasharray="3,2"/><polyline points="118,62 158,62 158,50 192,50" fill="none" stroke="#1a1a1a" stroke-width="0.9" stroke-dasharray="3,2"/><rect x="158" y="24" width="28" height="18" fill="none" stroke="#1a1a1a" stroke-width="0.9" stroke-dasharray="3,2"/><polyline points="126,47.3 121.5,50.1 126,52.9" fill="none" stroke="#1a1a1a" stroke-width="0.8"/><line x1="121.5" y1="50.1" x2="135" y2="50.1" stroke="#1a1a1a" stroke-width="0.8" stroke-dasharray="3,2"/><line x1="-59.6" y1="87" x2="218.8" y2="87" stroke="#1a1a1a" stroke-width="0.95"/><path d="M11.5,22 h7 a5.5,5.5 0 0 1 0,11 h-7 z" fill="#3a8ae0" stroke="#2f78c8" stroke-width="1.0"/><path d="M14,24.5 h4.5 a3,3 0 0 1 0,6 h-4.5 z" fill="none" stroke="#fff" stroke-width="0.8"/><rect x="33.5" y="32.5" width="15" height="6.5" fill="#3a8ae0" stroke="#2f78c8" stroke-width="1.0" rx="2.8"/><rect x="35.5" y="34.2" width="11" height="3.1" fill="none" stroke="#fff" stroke-width="0.7" rx="1.5"/><line x1="9.5" y1="46.3" x2="9.5" y2="49" stroke="#1a1a1a" stroke-width="0.8"/><rect x="9.2" y="97.6" width="16.5" height="51" fill="#eaf4fe" stroke="#2f78c8" stroke-width="1.0"/><circle cx="17.5" cy="106.3" r="5.6" fill="#eaf4fe" stroke="#2f78c8" stroke-width="1.0"/><rect x="10.6" y="113.5" width="14" height="7" fill="#1f6fd6" stroke="#2f78c8" stroke-width="0.8"/><line x1="9.2" y1="122.5" x2="25.7" y2="122.5" stroke="#2f78c8" stroke-width="0.8"/><line x1="9.2" y1="131" x2="25.7" y2="131" stroke="#2f78c8" stroke-width="0.8"/><circle cx="17.5" cy="140" r="0.9" fill="#2f78c8" stroke="#2f78c8" stroke-width="0.5"/><rect x="34.6" y="81.2" width="55.9" height="14.4" fill="#eaf4fe" stroke="#2f78c8" stroke-width="1.0"/><rect x="35.2" y="81.8" width="14" height="13.2" fill="#eaf4fe" stroke="#2f78c8" stroke-width="0.7"/><circle cx="38.8" cy="85.2" r="2.6" fill="#eaf4fe" stroke="#2f78c8" stroke-width="0.9"/><circle cx="45.6" cy="85.2" r="2.6" fill="#eaf4fe" stroke="#2f78c8" stroke-width="0.9"/><circle cx="38.8" cy="91.8" r="2.6" fill="#eaf4fe" stroke="#2f78c8" stroke-width="0.9"/><circle cx="45.6" cy="91.8" r="2.6" fill="#eaf4fe" stroke="#2f78c8" stroke-width="0.9"/><line x1="60" y1="81.2" x2="60" y2="95.6" stroke="#2f78c8" stroke-width="0.8"/><line x1="74" y1="81.2" x2="74" y2="95.6" stroke="#2f78c8" stroke-width="0.8"/><line x1="86" y1="81.2" x2="86" y2="95.6" stroke="#2f78c8" stroke-width="0.8"/><ellipse cx="141" cy="76" rx="7" ry="10.5" fill="#eaf4fe" stroke="#2f78c8" stroke-width="1.5"/><ellipse cx="164" cy="76" rx="7" ry="10.5" fill="#eaf4fe" stroke="#2f78c8" stroke-width="1.5"/><ellipse cx="141" cy="99.4" rx="7" ry="10.5" fill="#eaf4fe" stroke="#2f78c8" stroke-width="1.5"/><ellipse cx="164" cy="99.4" rx="7" ry="10.5" fill="#eaf4fe" stroke="#2f78c8" stroke-width="1.5"/><ellipse cx="131" cy="87.7" rx="10.5" ry="7" fill="#eaf4fe" stroke="#2f78c8" stroke-width="1.5"/><ellipse cx="174" cy="87.7" rx="10.5" ry="7" fill="#eaf4fe" stroke="#2f78c8" stroke-width="1.5"/><rect x="131" y="76" width="43" height="23.4" fill="#eaf4fe" stroke="#2f78c8" stroke-width="1.0"/><rect x="103" y="118" width="22" height="35" fill="#eaf4fe" stroke="#2f78c8" stroke-width="1.0"/><rect x="103" y="118" width="4.5" height="35" fill="#eaf4fe" stroke="#2f78c8" stroke-width="0.8"/><line x1="107.5" y1="135.5" x2="125" y2="135.5" stroke="#2f78c8" stroke-width="0.8"/><line x1="107.5" y1="121" x2="125" y2="121" stroke="#2f78c8" stroke-width="0.8"/><line x1="107.5" y1="150" x2="125" y2="150" stroke="#2f78c8" stroke-width="0.8"/><rect x="150.6" y="136.4" width="34" height="15" fill="#eaf4fe" stroke="#2f78c8" stroke-width="1.0"/><rect x="165" y="169.3" width="47.5" height="10" fill="#eaf4fe" stroke="#2f78c8" stroke-width="1.0"/><ellipse cx="188.6" cy="174.3" rx="11" ry="1.7" fill="#eaf4fe" stroke="#2f78c8" stroke-width="1.3"/><line x1="174" y1="174.3" x2="204" y2="174.3" stroke="#2f78c8" stroke-width="0.8"/><polyline points="-43.3,32 -43.3,231 176,231" fill="none" stroke="#1a1a1a" stroke-width="1.0" stroke-dasharray="3.5,2.5"/><polyline points="-43.3,32 -5,32" fill="none" stroke="#1a1a1a" stroke-width="1.0" stroke-dasharray="3.5,2.5"/><line x1="176" y1="231" x2="176" y2="190" stroke="#1a1a1a" stroke-width="1.0" stroke-dasharray="3.5,2.5"/><rect x="-35" y="36.8" width="4.8" height="4.8" fill="none" stroke="#1a1a1a" stroke-width="0.8"/><rect x="-34.7" y="128" width="4.8" height="4.8" fill="none" stroke="#1a1a1a" stroke-width="0.8"/><rect x="-34.3" y="219.4" width="4.8" height="4.8" fill="none" stroke="#1a1a1a" stroke-width="0.8"/><rect x="22.4" y="219.6" width="4.8" height="4.8" fill="none" stroke="#1a1a1a" stroke-width="0.8"/><rect x="83.7" y="219.9" width="4.8" height="4.8" fill="none" stroke="#1a1a1a" stroke-width="0.8"/><rect x="167.7" y="219.3" width="4.8" height="4.8" fill="none" stroke="#1a1a1a" stroke-width="0.8"/><text x="14.2" y="41.7" font-size="7.5" fill="#242424" text-anchor="start" font-weight="normal">P= 2,18 m²</text><text x="34.1" y="60.2" font-size="7.5" fill="#242424" text-anchor="start" font-weight="normal">hodnik</text><text x="34" y="69.6" font-size="7.5" fill="#242424" text-anchor="start" font-weight="normal">P= 4,58 m²</text><text x="41.1" y="119.4" font-size="7.5" fill="#242424" text-anchor="start" font-weight="normal">kuhinja</text><text x="41.7" y="127.6" font-size="7.5" fill="#242424" text-anchor="start" font-weight="normal">P= 7,35 m²</text><text x="26.7" y="147.1" font-size="6.2" fill="#242424" text-anchor="start" font-weight="normal">p= 100cm</text><text x="13" y="16" font-size="6" fill="#555" text-anchor="start" font-weight="normal">p= 100cm</text><text x="139.5" y="117.1" font-size="7.5" fill="#242424" text-anchor="start" font-weight="normal">dnevni</text><text x="139.2" y="126.5" font-size="7.5" fill="#242424" text-anchor="start" font-weight="normal">boravak i</text><text x="139.1" y="135.8" font-size="7.5" fill="#242424" text-anchor="start" font-weight="normal">blagovaona</text><text x="140.3" y="144.3" font-size="7.5" fill="#242424" text-anchor="start" font-weight="normal">P= 24,55 m²</text><text x="38.3" y="204.6" font-size="7.5" fill="#242424" text-anchor="start" font-weight="normal">natkrivena</text><text x="39.1" y="213.7" font-size="7.5" fill="#242424" text-anchor="start" font-weight="normal">terasa</text><text x="38.6" y="223.1" font-size="7.5" fill="#242424" text-anchor="start" font-weight="normal">P= 25,91 m²</text><text x="-36" y="65.3" font-size="7.6" fill="#242424" text-anchor="middle" font-weight="normal" transform="rotate(-90 -36 65.3)">ulaz</text><text x="-27" y="62.5" font-size="7.6" fill="#242424" text-anchor="middle" font-weight="normal" transform="rotate(-90 -27 62.5)">stan 2</text><polygon points="-59.6,75.3 -55.8,82.3 -63.4,82.3" fill="#fff" stroke="#1a1a1a" stroke-width="1.0"/><line x1="-59.6" y1="82.3" x2="-59.6" y2="87" stroke="#1a1a1a" stroke-width="0.95"/><text x="-58.6" y="94.5" font-size="8.2" fill="#222" text-anchor="middle" font-weight="normal">B</text><circle cx="100.3" cy="80.4" r="4.2" fill="#1a1a1a" stroke="#1a1a1a" stroke-width="0.5"/><path d="M100.3,77 v6.8 M96.9,80.4 h6.8" fill="none" stroke="#fff" stroke-width="0.6"/><line x1="100.3" y1="80.4" x2="121" y2="80.4" stroke="#1a1a1a" stroke-width="0.7"/><text x="105" y="78.6" font-size="7" fill="#242424" text-anchor="start" font-weight="normal">±0.00</text><rect x="78.5" y="187.3" width="29.5" height="3.7" fill="#8e8e8e" stroke="#4a4a4a" stroke-width="0.8"/><rect x="167" y="187.3" width="80" height="3.7" fill="#8e8e8e" stroke="#4a4a4a" stroke-width="0.8"/><line x1="88" y1="181.5" x2="108" y2="181.5" stroke="#1a1a1a" stroke-width="0.9"/><line x1="108" y1="181.5" x2="108" y2="191" stroke="#1a1a1a" stroke-width="0.9"/><line x1="167" y1="181.5" x2="167" y2="191" stroke="#1a1a1a" stroke-width="0.9"/><line x1="167" y1="181.5" x2="237" y2="181.5" stroke="#1a1a1a" stroke-width="0.9"/><line x1="108" y1="184.3" x2="140" y2="184.3" stroke="#222" stroke-width="2.2"/><line x1="136" y1="186.5" x2="167" y2="186.5" stroke="#222" stroke-width="2.2"/><line x1="108" y1="183" x2="167" y2="183" stroke="#999" stroke-width="0.5" stroke-dasharray="2,2"/><path d="M81,191 A28,28 0 0 0 137,191" fill="none" stroke="#b5b5b5" stroke-width="0.6"/><path d="M139,191 A28,28 0 0 0 195,191" fill="none" stroke="#b5b5b5" stroke-width="0.6"/><line x1="26" y1="-17" x2="26" y2="6" stroke="#1a1a1a" stroke-width="0.8"/><text x="23.8" y="-7.5" font-size="7.3" fill="#222" text-anchor="middle" font-weight="normal" transform="rotate(-90 23.8 -7.5)">100</text><text x="33.4" y="-7.5" font-size="7.3" fill="#222" text-anchor="middle" font-weight="normal" transform="rotate(-90 33.4 -7.5)">120</text><line x1="-0.1" y1="62.1" x2="22" y2="62.1" stroke="#1a1a1a" stroke-width="0.8"/><text x="15" y="59.9" font-size="7.3" fill="#222" text-anchor="middle" font-weight="normal">100</text><text x="15" y="69.5" font-size="7.3" fill="#222" text-anchor="middle" font-weight="normal">220</text><polygon points="-23.3,56.9 -14.3,62.1 -23.3,67.3" fill="#111" stroke="#111" stroke-width="0.5"/><line x1="-18.8" y1="108.4" x2="3" y2="108.4" stroke="#1a1a1a" stroke-width="0.8"/><text x="-11" y="106.2" font-size="7.3" fill="#222" text-anchor="middle" font-weight="normal">80</text><text x="-11" y="115.8" font-size="7.3" fill="#222" text-anchor="middle" font-weight="normal">120</text><line x1="39.6" y1="178.1" x2="39.6" y2="152" stroke="#1a1a1a" stroke-width="0.8"/><text x="37.4" y="171" font-size="7.3" fill="#222" text-anchor="middle" font-weight="normal" transform="rotate(-90 37.4 171)">100</text><text x="47" y="171" font-size="7.3" fill="#222" text-anchor="middle" font-weight="normal" transform="rotate(-90 47 171)">120</text><line x1="64.8" y1="179.2" x2="64.8" y2="157" stroke="#1a1a1a" stroke-width="0.8"/><text x="62.6" y="174" font-size="7.3" fill="#222" text-anchor="middle" font-weight="normal" transform="rotate(-90 62.6 174)">100</text><text x="72.2" y="174" font-size="7.3" fill="#222" text-anchor="middle" font-weight="normal" transform="rotate(-90 72.2 174)">220</text><line x1="134.4" y1="211" x2="134.4" y2="179.6" stroke="#1a1a1a" stroke-width="0.8"/><text x="132.2" y="196" font-size="7.3" fill="#222" text-anchor="middle" font-weight="normal" transform="rotate(-90 132.2 196)">200</text><text x="141.8" y="196" font-size="7.3" fill="#222" text-anchor="middle" font-weight="normal" transform="rotate(-90 141.8 196)">220</text></g><line x1="412.9" y1="209.3" x2="651.89" y2="209.3" stroke="#181818" stroke-width="1.1"/><polygon points="409.9,209.6 412.5,207.1 415.9,209 413.3,211.5" fill="#111" stroke="none" stroke-width="0"/><polygon points="416.7,209.6 419.31,207.1 422.7,209 420.1,211.5" fill="#111" stroke="none" stroke-width="0"/><polygon points="648.89,209.6 651.49,207.1 654.89,209 652.29,211.5" fill="#111" stroke="none" stroke-width="0"/><text x="416.3" y="207.7" font-size="7.3" fill="#1a1a1a" text-anchor="middle" font-weight="normal" stroke="#1a1a1a" stroke-width="0.18">25</text><text x="535.8" y="207.7" font-size="7.3" fill="#1a1a1a" text-anchor="middle" font-weight="normal" stroke="#1a1a1a" stroke-width="0.18">853</text><line x1="412.9" y1="219.3" x2="651.89" y2="219.3" stroke="#181818" stroke-width="1.1"/><polygon points="409.9,219.6 412.5,217.1 415.9,219 413.3,221.5" fill="#111" stroke="none" stroke-width="0"/><polygon points="416.7,219.6 419.31,217.1 422.7,219 420.1,221.5" fill="#111" stroke="none" stroke-width="0"/><polygon points="432.49,219.6 435.09,217.1 438.49,219 435.89,221.5" fill="#111" stroke="none" stroke-width="0"/><polygon points="454.27,219.6 456.87,217.1 460.27,219 457.67,221.5" fill="#111" stroke="none" stroke-width="0"/><polygon points="481.49,219.6 484.09,217.1 487.49,219 484.89,221.5" fill="#111" stroke="none" stroke-width="0"/><polygon points="508.71,219.6 511.31,217.1 514.71,219 512.11,221.5" fill="#111" stroke="none" stroke-width="0"/><polygon points="648.89,219.6 651.49,217.1 654.89,219 652.29,221.5" fill="#111" stroke="none" stroke-width="0"/><text x="416.3" y="217.7" font-size="7.3" fill="#1a1a1a" text-anchor="middle" font-weight="normal" stroke="#1a1a1a" stroke-width="0.18">25</text><text x="427.6" y="217.7" font-size="7.3" fill="#1a1a1a" text-anchor="middle" font-weight="normal" stroke="#1a1a1a" stroke-width="0.18">58</text><text x="446.38" y="217.7" font-size="7.3" fill="#1a1a1a" text-anchor="middle" font-weight="normal" stroke="#1a1a1a" stroke-width="0.18">80</text><text x="470.88" y="217.7" font-size="7.3" fill="#1a1a1a" text-anchor="middle" font-weight="normal" stroke="#1a1a1a" stroke-width="0.18">100</text><text x="498.1" y="217.7" font-size="7.3" fill="#1a1a1a" text-anchor="middle" font-weight="normal" stroke="#1a1a1a" stroke-width="0.18">100</text><text x="581.8" y="217.7" font-size="7.3" fill="#1a1a1a" text-anchor="middle" font-weight="normal" stroke="#1a1a1a" stroke-width="0.18">515</text><line x1="412.9" y1="230" x2="651.89" y2="230" stroke="#181818" stroke-width="1.1"/><polygon points="409.9,230.3 412.5,227.8 415.9,229.7 413.3,232.2" fill="#111" stroke="none" stroke-width="0"/><polygon points="416.7,230.3 419.31,227.8 422.7,229.7 420.1,232.2" fill="#111" stroke="none" stroke-width="0"/><polygon points="471.96,230.3 474.56,227.8 477.96,229.7 475.36,232.2" fill="#111" stroke="none" stroke-width="0"/><polygon points="474.68,230.3 477.28,227.8 480.68,229.7 478.08,232.2" fill="#111" stroke="none" stroke-width="0"/><polygon points="508.71,230.3 511.31,227.8 514.71,229.7 512.11,232.2" fill="#111" stroke="none" stroke-width="0"/><polygon points="515.51,230.3 518.11,227.8 521.51,229.7 518.91,232.2" fill="#111" stroke="none" stroke-width="0"/><polygon points="639.36,230.3 641.96,227.8 645.36,229.7 642.76,232.2" fill="#111" stroke="none" stroke-width="0"/><polygon points="646.17,230.3 648.77,227.8 652.17,229.7 649.57,232.2" fill="#111" stroke="none" stroke-width="0"/><polygon points="648.89,230.3 651.49,227.8 654.89,229.7 652.29,232.2" fill="#111" stroke="none" stroke-width="0"/><text x="416.3" y="228.4" font-size="7.3" fill="#1a1a1a" text-anchor="middle" font-weight="normal" stroke="#1a1a1a" stroke-width="0.18">25</text><text x="447.33" y="228.4" font-size="7.3" fill="#1a1a1a" text-anchor="middle" font-weight="normal" stroke="#1a1a1a" stroke-width="0.18">203</text><text x="476.32" y="228.4" font-size="7.3" fill="#1a1a1a" text-anchor="middle" font-weight="normal" stroke="#1a1a1a" stroke-width="0.18">10</text><text x="494.7" y="228.4" font-size="7.3" fill="#1a1a1a" text-anchor="middle" font-weight="normal" stroke="#1a1a1a" stroke-width="0.18">125</text><text x="515.11" y="228.4" font-size="7.3" fill="#1a1a1a" text-anchor="middle" font-weight="normal" stroke="#1a1a1a" stroke-width="0.18">25</text><text x="580.44" y="228.4" font-size="7.3" fill="#1a1a1a" text-anchor="middle" font-weight="normal" stroke="#1a1a1a" stroke-width="0.18">455</text><text x="645.77" y="228.4" font-size="7.3" fill="#1a1a1a" text-anchor="middle" font-weight="normal" stroke="#1a1a1a" stroke-width="0.18">25</text><text x="650.53" y="228.4" font-size="7.3" fill="#1a1a1a" text-anchor="middle" font-weight="normal" stroke="#1a1a1a" stroke-width="0.18">10</text><line x1="412.9" y1="240.8" x2="651.89" y2="240.8" stroke="#181818" stroke-width="1.1"/><polygon points="409.9,241.1 412.5,238.6 415.9,240.5 413.3,243" fill="#111" stroke="none" stroke-width="0"/><polygon points="416.7,241.1 419.31,238.6 422.7,240.5 420.1,243" fill="#111" stroke="none" stroke-width="0"/><polygon points="508.71,241.1 511.31,238.6 514.71,240.5 512.11,243" fill="#111" stroke="none" stroke-width="0"/><polygon points="515.51,241.1 518.11,238.6 521.51,240.5 518.91,243" fill="#111" stroke="none" stroke-width="0"/><polygon points="639.36,241.1 641.96,238.6 645.36,240.5 642.76,243" fill="#111" stroke="none" stroke-width="0"/><polygon points="646.17,241.1 648.77,238.6 652.17,240.5 649.57,243" fill="#111" stroke="none" stroke-width="0"/><polygon points="648.89,241.1 651.49,238.6 654.89,240.5 652.29,243" fill="#111" stroke="none" stroke-width="0"/><text x="416.3" y="239.2" font-size="7.3" fill="#1a1a1a" text-anchor="middle" font-weight="normal" stroke="#1a1a1a" stroke-width="0.18">25</text><text x="465.71" y="239.2" font-size="7.3" fill="#1a1a1a" text-anchor="middle" font-weight="normal" stroke="#1a1a1a" stroke-width="0.18">338</text><text x="515.11" y="239.2" font-size="7.3" fill="#1a1a1a" text-anchor="middle" font-weight="normal" stroke="#1a1a1a" stroke-width="0.18">25</text><text x="580.44" y="239.2" font-size="7.3" fill="#1a1a1a" text-anchor="middle" font-weight="normal" stroke="#1a1a1a" stroke-width="0.18">455</text><text x="645.77" y="239.2" font-size="7.3" fill="#1a1a1a" text-anchor="middle" font-weight="normal" stroke="#1a1a1a" stroke-width="0.18">25</text><text x="650.53" y="239.2" font-size="7.3" fill="#1a1a1a" text-anchor="middle" font-weight="normal" stroke="#1a1a1a" stroke-width="0.18">10</text><line x1="412.9" y1="545.3" x2="651.89" y2="545.3" stroke="#181818" stroke-width="1.1"/><polygon points="409.9,545.6 412.5,543.1 415.9,545 413.3,547.5" fill="#111" stroke="none" stroke-width="0"/><polygon points="416.7,545.6 419.31,543.1 422.7,545 420.1,547.5" fill="#111" stroke="none" stroke-width="0"/><polygon points="508.71,545.6 511.31,543.1 514.71,545 512.11,547.5" fill="#111" stroke="none" stroke-width="0"/><polygon points="515.51,545.6 518.11,543.1 521.51,545 518.91,547.5" fill="#111" stroke="none" stroke-width="0"/><polygon points="639.36,545.6 641.96,543.1 645.36,545 642.76,547.5" fill="#111" stroke="none" stroke-width="0"/><polygon points="646.17,545.6 648.77,543.1 652.17,545 649.57,547.5" fill="#111" stroke="none" stroke-width="0"/><polygon points="648.89,545.6 651.49,543.1 654.89,545 652.29,547.5" fill="#111" stroke="none" stroke-width="0"/><text x="416.3" y="543.7" font-size="7.3" fill="#1a1a1a" text-anchor="middle" font-weight="normal" stroke="#1a1a1a" stroke-width="0.18">25</text><text x="465.71" y="543.7" font-size="7.3" fill="#1a1a1a" text-anchor="middle" font-weight="normal" stroke="#1a1a1a" stroke-width="0.18">338</text><text x="515.11" y="543.7" font-size="7.3" fill="#1a1a1a" text-anchor="middle" font-weight="normal" stroke="#1a1a1a" stroke-width="0.18">25</text><text x="580.44" y="543.7" font-size="7.3" fill="#1a1a1a" text-anchor="middle" font-weight="normal" stroke="#1a1a1a" stroke-width="0.18">455</text><text x="645.77" y="543.7" font-size="7.3" fill="#1a1a1a" text-anchor="middle" font-weight="normal" stroke="#1a1a1a" stroke-width="0.18">25</text><text x="650.53" y="543.7" font-size="7.3" fill="#1a1a1a" text-anchor="middle" font-weight="normal" stroke="#1a1a1a" stroke-width="0.18">10</text><line x1="412.9" y1="557" x2="651.89" y2="557" stroke="#181818" stroke-width="1.1"/><polygon points="409.9,557.3 412.5,554.8 415.9,556.7 413.3,559.2" fill="#111" stroke="none" stroke-width="0"/><polygon points="416.7,557.3 419.31,554.8 422.7,556.7 420.1,559.2" fill="#111" stroke="none" stroke-width="0"/><polygon points="419.43,557.3 422.03,554.8 425.43,556.7 422.83,559.2" fill="#111" stroke="none" stroke-width="0"/><polygon points="451.55,557.3 454.15,554.8 457.55,556.7 454.95,559.2" fill="#111" stroke="none" stroke-width="0"/><polygon points="478.77,557.3 481.37,554.8 484.77,556.7 482.17,559.2" fill="#111" stroke="none" stroke-width="0"/><polygon points="505.99,557.3 508.59,554.8 511.99,556.7 509.39,559.2" fill="#111" stroke="none" stroke-width="0"/><polygon points="508.71,557.3 511.31,554.8 514.71,556.7 512.11,559.2" fill="#111" stroke="none" stroke-width="0"/><polygon points="515.51,557.3 518.11,554.8 521.51,556.7 518.91,559.2" fill="#111" stroke="none" stroke-width="0"/><polygon points="542.73,557.3 545.33,554.8 548.73,556.7 546.13,559.2" fill="#111" stroke="none" stroke-width="0"/><polygon points="597.17,557.3 599.77,554.8 603.17,556.7 600.57,559.2" fill="#111" stroke="none" stroke-width="0"/><polygon points="639.36,557.3 641.96,554.8 645.36,556.7 642.76,559.2" fill="#111" stroke="none" stroke-width="0"/><polygon points="646.17,557.3 648.77,554.8 652.17,556.7 649.57,559.2" fill="#111" stroke="none" stroke-width="0"/><polygon points="648.89,557.3 651.49,554.8 654.89,556.7 652.29,559.2" fill="#111" stroke="none" stroke-width="0"/><text x="416.3" y="555.4" font-size="7.3" fill="#1a1a1a" text-anchor="middle" font-weight="normal" stroke="#1a1a1a" stroke-width="0.18">25</text><text x="421.07" y="555.4" font-size="7.3" fill="#1a1a1a" text-anchor="middle" font-weight="normal" stroke="#1a1a1a" stroke-width="0.18">10</text><text x="438.49" y="555.4" font-size="7.3" fill="#1a1a1a" text-anchor="middle" font-weight="normal" stroke="#1a1a1a" stroke-width="0.18">118</text><text x="468.16" y="555.4" font-size="7.3" fill="#1a1a1a" text-anchor="middle" font-weight="normal" stroke="#1a1a1a" stroke-width="0.18">100</text><text x="495.38" y="555.4" font-size="7.3" fill="#1a1a1a" text-anchor="middle" font-weight="normal" stroke="#1a1a1a" stroke-width="0.18">100</text><text x="510.35" y="555.4" font-size="7.3" fill="#1a1a1a" text-anchor="middle" font-weight="normal" stroke="#1a1a1a" stroke-width="0.18">10</text><text x="515.11" y="555.4" font-size="7.3" fill="#1a1a1a" text-anchor="middle" font-weight="normal" stroke="#1a1a1a" stroke-width="0.18">25</text><text x="532.12" y="555.4" font-size="7.3" fill="#1a1a1a" text-anchor="middle" font-weight="normal" stroke="#1a1a1a" stroke-width="0.18">100</text><text x="572.95" y="555.4" font-size="7.3" fill="#1a1a1a" text-anchor="middle" font-weight="normal" stroke="#1a1a1a" stroke-width="0.18">200</text><text x="621.27" y="555.4" font-size="7.3" fill="#1a1a1a" text-anchor="middle" font-weight="normal" stroke="#1a1a1a" stroke-width="0.18">155</text><text x="645.77" y="555.4" font-size="7.3" fill="#1a1a1a" text-anchor="middle" font-weight="normal" stroke="#1a1a1a" stroke-width="0.18">25</text><text x="650.53" y="555.4" font-size="7.3" fill="#1a1a1a" text-anchor="middle" font-weight="normal" stroke="#1a1a1a" stroke-width="0.18">10</text><line x1="412.9" y1="571.3" x2="651.89" y2="571.3" stroke="#181818" stroke-width="1.1"/><polygon points="409.9,571.6 412.5,569.1 415.9,571 413.3,573.5" fill="#111" stroke="none" stroke-width="0"/><polygon points="419.43,571.6 422.03,569.1 425.43,571 422.83,573.5" fill="#111" stroke="none" stroke-width="0"/><polygon points="424.87,571.6 427.47,569.1 430.87,571 428.27,573.5" fill="#111" stroke="none" stroke-width="0"/><polygon points="509.25,571.6 511.85,569.1 515.25,571 512.65,573.5" fill="#111" stroke="none" stroke-width="0"/><polygon points="514.7,571.6 517.3,569.1 520.7,571 518.1,573.5" fill="#111" stroke="none" stroke-width="0"/><polygon points="599.08,571.6 601.68,569.1 605.08,571 602.48,573.5" fill="#111" stroke="none" stroke-width="0"/><polygon points="604.52,571.6 607.12,569.1 610.52,571 607.92,573.5" fill="#111" stroke="none" stroke-width="0"/><polygon points="648.89,571.6 651.49,569.1 654.89,571 652.29,573.5" fill="#111" stroke="none" stroke-width="0"/><text x="417.66" y="569.7" font-size="7.3" fill="#1a1a1a" text-anchor="middle" font-weight="normal" stroke="#1a1a1a" stroke-width="0.18">35</text><text x="425.15" y="569.7" font-size="7.3" fill="#1a1a1a" text-anchor="middle" font-weight="normal" stroke="#1a1a1a" stroke-width="0.18">20</text><text x="470.06" y="569.7" font-size="7.3" fill="#1a1a1a" text-anchor="middle" font-weight="normal" stroke="#1a1a1a" stroke-width="0.18">310</text><text x="514.97" y="569.7" font-size="7.3" fill="#1a1a1a" text-anchor="middle" font-weight="normal" stroke="#1a1a1a" stroke-width="0.18">20</text><text x="559.89" y="569.7" font-size="7.3" fill="#1a1a1a" text-anchor="middle" font-weight="normal" stroke="#1a1a1a" stroke-width="0.18">310</text><text x="604.8" y="569.7" font-size="7.3" fill="#1a1a1a" text-anchor="middle" font-weight="normal" stroke="#1a1a1a" stroke-width="0.18">20</text><text x="629.71" y="569.7" font-size="7.3" fill="#1a1a1a" text-anchor="middle" font-weight="normal" stroke="#1a1a1a" stroke-width="0.18">163</text><line x1="412.9" y1="581.8" x2="651.89" y2="581.8" stroke="#181818" stroke-width="1.1"/><polygon points="409.9,582.1 412.5,579.6 415.9,581.5 413.3,584" fill="#111" stroke="none" stroke-width="0"/><polygon points="419.43,582.1 422.03,579.6 425.43,581.5 422.83,584" fill="#111" stroke="none" stroke-width="0"/><polygon points="505.99,582.1 508.59,579.6 511.99,581.5 509.39,584" fill="#111" stroke="none" stroke-width="0"/><polygon points="648.89,582.1 651.49,579.6 654.89,581.5 652.29,584" fill="#111" stroke="none" stroke-width="0"/><text x="417.66" y="580.2" font-size="7.3" fill="#1a1a1a" text-anchor="middle" font-weight="normal" stroke="#1a1a1a" stroke-width="0.18">35</text><text x="465.71" y="580.2" font-size="7.3" fill="#1a1a1a" text-anchor="middle" font-weight="normal" stroke="#1a1a1a" stroke-width="0.18">318</text><text x="580.44" y="580.2" font-size="7.3" fill="#1a1a1a" text-anchor="middle" font-weight="normal" stroke="#1a1a1a" stroke-width="0.18">525</text><line x1="412.9" y1="592.3" x2="651.89" y2="592.3" stroke="#181818" stroke-width="1.1"/><polygon points="409.9,592.6 412.5,590.1 415.9,592 413.3,594.5" fill="#111" stroke="none" stroke-width="0"/><polygon points="648.89,592.6 651.49,590.1 654.89,592 652.29,594.5" fill="#111" stroke="none" stroke-width="0"/><text x="532.4" y="590.7" font-size="7.3" fill="#1a1a1a" text-anchor="middle" font-weight="normal" stroke="#1a1a1a" stroke-width="0.18">878</text><line x1="124.64" y1="607.3" x2="651.89" y2="607.3" stroke="#181818" stroke-width="1.1"/><polygon points="121.64,607.6 124.24,605.1 127.64,607 125.04,609.5" fill="#111" stroke="none" stroke-width="0"/><polygon points="186.7,607.6 189.3,605.1 192.7,607 190.1,609.5" fill="#111" stroke="none" stroke-width="0"/><polygon points="648.89,607.6 651.49,605.1 654.89,607 652.29,609.5" fill="#111" stroke="none" stroke-width="0"/><text x="157.17" y="605.7" font-size="7.3" fill="#1a1a1a" text-anchor="middle" font-weight="normal" stroke="#1a1a1a" stroke-width="0.18">239</text><text x="420.79" y="605.7" font-size="7.3" fill="#1a1a1a" text-anchor="middle" font-weight="normal" stroke="#1a1a1a" stroke-width="0.18">1698</text><line x1="124.64" y1="619.3" x2="651.89" y2="619.3" stroke="#181818" stroke-width="1.1"/><polygon points="121.64,619.6 124.24,617.1 127.64,619 125.04,621.5" fill="#111" stroke="none" stroke-width="0"/><polygon points="648.89,619.6 651.49,617.1 654.89,619 652.29,621.5" fill="#111" stroke="none" stroke-width="0"/><text x="388.27" y="617.7" font-size="7.3" fill="#1a1a1a" text-anchor="middle" font-weight="normal" stroke="#1a1a1a" stroke-width="0.18">1937</text><line x1="687.3" y1="200.5" x2="687.3" y2="492.03" stroke="#181818" stroke-width="1.1"/><polygon points="687,197.5 689.5,200.1 687.6,203.5 685.1,200.9" fill="#111" stroke="none" stroke-width="0"/><polygon points="687,248.13 689.5,250.73 687.6,254.13 685.1,251.53" fill="#111" stroke="none" stroke-width="0"/><polygon points="687,284.88 689.5,287.48 687.6,290.88 685.1,288.28" fill="#111" stroke="none" stroke-width="0"/><polygon points="687,287.6 689.5,290.2 687.6,293.6 685.1,291" fill="#111" stroke="none" stroke-width="0"/><polygon points="687,294.4 689.5,297 687.6,300.4 685.1,297.8" fill="#111" stroke="none" stroke-width="0"/><polygon points="687,324.35 689.5,326.95 687.6,330.35 685.1,327.75" fill="#111" stroke="none" stroke-width="0"/><polygon points="687,331.15 689.5,333.75 687.6,337.15 685.1,334.55" fill="#111" stroke="none" stroke-width="0"/><polygon points="687,397.84 689.5,400.44 687.6,403.84 685.1,401.24" fill="#111" stroke="none" stroke-width="0"/><polygon points="687,404.64 689.5,407.24 687.6,410.64 685.1,408.04" fill="#111" stroke="none" stroke-width="0"/><polygon points="687,435.95 689.5,438.55 687.6,441.95 685.1,439.35" fill="#111" stroke="none" stroke-width="0"/><polygon points="687,442.75 689.5,445.35 687.6,448.75 685.1,446.15" fill="#111" stroke="none" stroke-width="0"/><polygon points="687,445.47 689.5,448.07 687.6,451.47 685.1,448.87" fill="#111" stroke="none" stroke-width="0"/><polygon points="687,475.42 689.5,478.02 687.6,481.42 685.1,478.82" fill="#111" stroke="none" stroke-width="0"/><polygon points="687,483.58 689.5,486.18 687.6,489.58 685.1,486.98" fill="#111" stroke="none" stroke-width="0"/><polygon points="687,489.03 689.5,491.63 687.6,495.03 685.1,492.43" fill="#111" stroke="none" stroke-width="0"/><text x="685.7" y="225.81" font-size="7.3" fill="#1a1a1a" text-anchor="middle" font-weight="normal" transform="rotate(-90 685.7 225.81)" stroke="#1a1a1a" stroke-width="0.18">186</text><text x="685.7" y="269.5" font-size="7.3" fill="#1a1a1a" text-anchor="middle" font-weight="normal" transform="rotate(-90 685.7 269.5)" stroke="#1a1a1a" stroke-width="0.18">135</text><text x="685.7" y="289.24" font-size="7.3" fill="#1a1a1a" text-anchor="middle" font-weight="normal" transform="rotate(-90 685.7 289.24)" stroke="#1a1a1a" stroke-width="0.18">10</text><text x="685.7" y="294" font-size="7.3" fill="#1a1a1a" text-anchor="middle" font-weight="normal" transform="rotate(-90 685.7 294)" stroke="#1a1a1a" stroke-width="0.18">25</text><text x="685.7" y="312.37" font-size="7.3" fill="#1a1a1a" text-anchor="middle" font-weight="normal" transform="rotate(-90 685.7 312.37)" stroke="#1a1a1a" stroke-width="0.18">110</text><text x="685.7" y="330.75" font-size="7.3" fill="#1a1a1a" text-anchor="middle" font-weight="normal" transform="rotate(-90 685.7 330.75)" stroke="#1a1a1a" stroke-width="0.18">25</text><text x="685.7" y="367.49" font-size="7.3" fill="#1a1a1a" text-anchor="middle" font-weight="normal" transform="rotate(-90 685.7 367.49)" stroke="#1a1a1a" stroke-width="0.18">245</text><text x="685.7" y="404.24" font-size="7.3" fill="#1a1a1a" text-anchor="middle" font-weight="normal" transform="rotate(-90 685.7 404.24)" stroke="#1a1a1a" stroke-width="0.18">25</text><text x="685.7" y="423.3" font-size="7.3" fill="#1a1a1a" text-anchor="middle" font-weight="normal" transform="rotate(-90 685.7 423.3)" stroke="#1a1a1a" stroke-width="0.18">115</text><text x="685.7" y="442.35" font-size="7.3" fill="#1a1a1a" text-anchor="middle" font-weight="normal" transform="rotate(-90 685.7 442.35)" stroke="#1a1a1a" stroke-width="0.18">25</text><text x="685.7" y="447.11" font-size="7.3" fill="#1a1a1a" text-anchor="middle" font-weight="normal" transform="rotate(-90 685.7 447.11)" stroke="#1a1a1a" stroke-width="0.18">10</text><text x="685.7" y="463.45" font-size="7.3" fill="#1a1a1a" text-anchor="middle" font-weight="normal" transform="rotate(-90 685.7 463.45)" stroke="#1a1a1a" stroke-width="0.18">110</text><text x="685.7" y="482.5" font-size="7.3" fill="#1a1a1a" text-anchor="middle" font-weight="normal" transform="rotate(-90 685.7 482.5)" stroke="#1a1a1a" stroke-width="0.18">30</text><text x="685.7" y="489.3" font-size="7.3" fill="#1a1a1a" text-anchor="middle" font-weight="normal" transform="rotate(-90 685.7 489.3)" stroke="#1a1a1a" stroke-width="0.18">20</text><line x1="706" y1="200.5" x2="706" y2="492.03" stroke="#181818" stroke-width="1.1"/><polygon points="705.7,197.5 708.2,200.1 706.3,203.5 703.8,200.9" fill="#111" stroke="none" stroke-width="0"/><polygon points="705.7,284.88 708.2,287.48 706.3,290.88 703.8,288.28" fill="#111" stroke="none" stroke-width="0"/><polygon points="705.7,287.6 708.2,290.2 706.3,293.6 703.8,291" fill="#111" stroke="none" stroke-width="0"/><polygon points="705.7,294.4 708.2,297 706.3,300.4 703.8,297.8" fill="#111" stroke="none" stroke-width="0"/><polygon points="705.7,435.95 708.2,438.55 706.3,441.95 703.8,439.35" fill="#111" stroke="none" stroke-width="0"/><polygon points="705.7,442.75 708.2,445.35 706.3,448.75 703.8,446.15" fill="#111" stroke="none" stroke-width="0"/><polygon points="705.7,445.47 708.2,448.07 706.3,451.47 703.8,448.87" fill="#111" stroke="none" stroke-width="0"/><polygon points="705.7,489.03 708.2,491.63 706.3,495.03 703.8,492.43" fill="#111" stroke="none" stroke-width="0"/><text x="704.4" y="244.19" font-size="7.3" fill="#1a1a1a" text-anchor="middle" font-weight="normal" transform="rotate(-90 704.4 244.19)" stroke="#1a1a1a" stroke-width="0.18">321</text><text x="704.4" y="289.24" font-size="7.3" fill="#1a1a1a" text-anchor="middle" font-weight="normal" transform="rotate(-90 704.4 289.24)" stroke="#1a1a1a" stroke-width="0.18">10</text><text x="704.4" y="294" font-size="7.3" fill="#1a1a1a" text-anchor="middle" font-weight="normal" transform="rotate(-90 704.4 294)" stroke="#1a1a1a" stroke-width="0.18">25</text><text x="704.4" y="368.18" font-size="7.3" fill="#1a1a1a" text-anchor="middle" font-weight="normal" transform="rotate(-90 704.4 368.18)" stroke="#1a1a1a" stroke-width="0.18">520</text><text x="704.4" y="442.35" font-size="7.3" fill="#1a1a1a" text-anchor="middle" font-weight="normal" transform="rotate(-90 704.4 442.35)" stroke="#1a1a1a" stroke-width="0.18">25</text><text x="704.4" y="447.11" font-size="7.3" fill="#1a1a1a" text-anchor="middle" font-weight="normal" transform="rotate(-90 704.4 447.11)" stroke="#1a1a1a" stroke-width="0.18">10</text><text x="704.4" y="470.25" font-size="7.3" fill="#1a1a1a" text-anchor="middle" font-weight="normal" transform="rotate(-90 704.4 470.25)" stroke="#1a1a1a" stroke-width="0.18">160</text><line x1="719.5" y1="200.5" x2="719.5" y2="492.03" stroke="#181818" stroke-width="1.1"/><polygon points="719.2,197.5 721.7,200.1 719.8,203.5 717.3,200.9" fill="#111" stroke="none" stroke-width="0"/><polygon points="719.2,284.88 721.7,287.48 719.8,290.88 717.3,288.28" fill="#111" stroke="none" stroke-width="0"/><polygon points="719.2,287.6 721.7,290.2 719.8,293.6 717.3,291" fill="#111" stroke="none" stroke-width="0"/><polygon points="719.2,294.4 721.7,297 719.8,300.4 717.3,297.8" fill="#111" stroke="none" stroke-width="0"/><polygon points="719.2,380.15 721.7,382.75 719.8,386.15 717.3,383.55" fill="#111" stroke="none" stroke-width="0"/><polygon points="719.2,407.37 721.7,409.97 719.8,413.37 717.3,410.77" fill="#111" stroke="none" stroke-width="0"/><polygon points="719.2,435.95 721.7,438.55 719.8,441.95 717.3,439.35" fill="#111" stroke="none" stroke-width="0"/><polygon points="719.2,442.75 721.7,445.35 719.8,448.75 717.3,446.15" fill="#111" stroke="none" stroke-width="0"/><polygon points="719.2,445.47 721.7,448.07 719.8,451.47 717.3,448.87" fill="#111" stroke="none" stroke-width="0"/><polygon points="719.2,489.03 721.7,491.63 719.8,495.03 717.3,492.43" fill="#111" stroke="none" stroke-width="0"/><text x="717.9" y="244.19" font-size="7.3" fill="#1a1a1a" text-anchor="middle" font-weight="normal" transform="rotate(-90 717.9 244.19)" stroke="#1a1a1a" stroke-width="0.18">321</text><text x="717.9" y="289.24" font-size="7.3" fill="#1a1a1a" text-anchor="middle" font-weight="normal" transform="rotate(-90 717.9 289.24)" stroke="#1a1a1a" stroke-width="0.18">10</text><text x="717.9" y="294" font-size="7.3" fill="#1a1a1a" text-anchor="middle" font-weight="normal" transform="rotate(-90 717.9 294)" stroke="#1a1a1a" stroke-width="0.18">25</text><text x="717.9" y="340.27" font-size="7.3" fill="#1a1a1a" text-anchor="middle" font-weight="normal" transform="rotate(-90 717.9 340.27)" stroke="#1a1a1a" stroke-width="0.18">315</text><text x="717.9" y="396.76" font-size="7.3" fill="#1a1a1a" text-anchor="middle" font-weight="normal" transform="rotate(-90 717.9 396.76)" stroke="#1a1a1a" stroke-width="0.18">100</text><text x="717.9" y="424.66" font-size="7.3" fill="#1a1a1a" text-anchor="middle" font-weight="normal" transform="rotate(-90 717.9 424.66)" stroke="#1a1a1a" stroke-width="0.18">105</text><text x="717.9" y="442.35" font-size="7.3" fill="#1a1a1a" text-anchor="middle" font-weight="normal" transform="rotate(-90 717.9 442.35)" stroke="#1a1a1a" stroke-width="0.18">25</text><text x="717.9" y="447.11" font-size="7.3" fill="#1a1a1a" text-anchor="middle" font-weight="normal" transform="rotate(-90 717.9 447.11)" stroke="#1a1a1a" stroke-width="0.18">10</text><text x="717.9" y="470.25" font-size="7.3" fill="#1a1a1a" text-anchor="middle" font-weight="normal" transform="rotate(-90 717.9 470.25)" stroke="#1a1a1a" stroke-width="0.18">160</text><line x1="733" y1="200.5" x2="733" y2="492.03" stroke="#181818" stroke-width="1.1"/><polygon points="732.7,197.5 735.2,200.1 733.3,203.5 730.8,200.9" fill="#111" stroke="none" stroke-width="0"/><polygon points="732.7,284.88 735.2,287.48 733.3,290.88 730.8,288.28" fill="#111" stroke="none" stroke-width="0"/><polygon points="732.7,445.47 735.2,448.07 733.3,451.47 730.8,448.87" fill="#111" stroke="none" stroke-width="0"/><polygon points="732.7,489.03 735.2,491.63 733.3,495.03 730.8,492.43" fill="#111" stroke="none" stroke-width="0"/><text x="731.4" y="244.19" font-size="7.3" fill="#1a1a1a" text-anchor="middle" font-weight="normal" transform="rotate(-90 731.4 244.19)" stroke="#1a1a1a" stroke-width="0.18">321</text><text x="731.4" y="368.18" font-size="7.3" fill="#1a1a1a" text-anchor="middle" font-weight="normal" transform="rotate(-90 731.4 368.18)" stroke="#1a1a1a" stroke-width="0.18">590</text><text x="731.4" y="470.25" font-size="7.3" fill="#1a1a1a" text-anchor="middle" font-weight="normal" transform="rotate(-90 731.4 470.25)" stroke="#1a1a1a" stroke-width="0.18">160</text><line x1="745.8" y1="200.5" x2="745.8" y2="492.03" stroke="#181818" stroke-width="1.1"/><polygon points="745.5,197.5 748,200.1 746.1,203.5 743.6,200.9" fill="#111" stroke="none" stroke-width="0"/><polygon points="745.5,489.03 748,491.63 746.1,495.03 743.6,492.43" fill="#111" stroke="none" stroke-width="0"/><text x="744.2" y="346.26" font-size="7.3" fill="#1a1a1a" text-anchor="middle" font-weight="normal" transform="rotate(-90 744.2 346.26)" stroke="#1a1a1a" stroke-width="0.18">1071</text><rect x="420.5" y="251.4" width="2.9" height="36.6" fill="#8e8e8e" stroke="#4a4a4a" stroke-width="0.8"/><rect x="420.5" y="288" width="65" height="2.7" fill="#8e8e8e" stroke="#4a4a4a" stroke-width="0.8"/><rect x="510.9" y="288" width="141.5" height="2.7" fill="#8e8e8e" stroke="#4a4a4a" stroke-width="0.8"/><rect x="649.6" y="288" width="2.8" height="160.5" fill="#8e8e8e" stroke="#4a4a4a" stroke-width="0.8"/><rect x="508.9" y="445.7" width="38.1" height="2.8" fill="#8e8e8e" stroke="#4a4a4a" stroke-width="0.8"/><rect x="599.6" y="445.7" width="52.8" height="2.8" fill="#8e8e8e" stroke="#4a4a4a" stroke-width="0.8"/><rect x="508.9" y="401" width="2.8" height="47.5" fill="#8e8e8e" stroke="#4a4a4a" stroke-width="0.8"/><rect x="420.5" y="407" width="36" height="2.6" fill="#8e8e8e" stroke="#4a4a4a" stroke-width="0.8"/><rect x="420.5" y="409.6" width="2.9" height="37" fill="#8e8e8e" stroke="#4a4a4a" stroke-width="0.8"/><line x1="413.4" y1="253" x2="413.4" y2="447" stroke="#1a1a1a" stroke-width="0.9"/><line x1="420.5" y1="288" x2="420.5" y2="407" stroke="#1a1a1a" stroke-width="0.9"/><line x1="420.5" y1="297.3" x2="478.6" y2="297.3" stroke="#1a1a1a" stroke-width="0.9"/><line x1="518.9" y1="297.3" x2="642.4" y2="297.3" stroke="#1a1a1a" stroke-width="0.9"/><line x1="642.4" y1="297.3" x2="642.4" y2="439.8" stroke="#1a1a1a" stroke-width="0.9"/><line x1="518.9" y1="439.8" x2="547" y2="439.8" stroke="#1a1a1a" stroke-width="0.9"/><line x1="599.6" y1="439.8" x2="642.4" y2="439.8" stroke="#1a1a1a" stroke-width="0.9"/><line x1="547" y1="439.8" x2="547" y2="448.5" stroke="#1a1a1a" stroke-width="0.9"/><line x1="599.6" y1="439.8" x2="599.6" y2="448.5" stroke="#1a1a1a" stroke-width="0.9"/><line x1="518.9" y1="297.3" x2="518.9" y2="335" stroke="#1a1a1a" stroke-width="0.9"/><line x1="510.9" y1="288" x2="510.9" y2="335" stroke="#1a1a1a" stroke-width="0.9"/><line x1="518.9" y1="401" x2="518.9" y2="439.8" stroke="#1a1a1a" stroke-width="0.9"/><line x1="511.7" y1="401" x2="511.7" y2="448.5" stroke="#1a1a1a" stroke-width="0.6"/><line x1="510.9" y1="335" x2="510.9" y2="401" stroke="#1a1a1a" stroke-width="0.9" stroke-dasharray="3,2.2"/><line x1="518.9" y1="335" x2="518.9" y2="401" stroke="#1a1a1a" stroke-width="0.9" stroke-dasharray="3,2.2"/><line x1="420.5" y1="401.3" x2="456.6" y2="401.3" stroke="#1a1a1a" stroke-width="0.9"/><line x1="482" y1="401.3" x2="483.5" y2="401.3" stroke="#1a1a1a" stroke-width="0.9"/><line x1="456.6" y1="401.3" x2="456.6" y2="409.6" stroke="#1a1a1a" stroke-width="0.9"/><line x1="482" y1="401.3" x2="482" y2="409.6" stroke="#1a1a1a" stroke-width="0.9"/><rect x="435.8" y="289.5" width="21.8" height="3.2" fill="#111" stroke="#111" stroke-width="0.5"/><rect x="435.8" y="292.7" width="21.8" height="4.6" fill="#fff" stroke="#111" stroke-width="0.7"/><rect x="456.6" y="402.5" width="25.4" height="3.5" fill="#fff" stroke="#111" stroke-width="0.9"/><rect x="456.6" y="406" width="25.4" height="2.5" fill="#111" stroke="#111" stroke-width="0.5"/><rect x="645.3" y="383.7" width="4.2" height="25.3" fill="#111" stroke="#111" stroke-width="0.5"/><line x1="642.4" y1="383.7" x2="645.3" y2="383.7" stroke="#1a1a1a" stroke-width="0.8"/><line x1="642.4" y1="409" x2="645.3" y2="409" stroke="#1a1a1a" stroke-width="0.8"/><line x1="547" y1="441.8" x2="575" y2="441.8" stroke="#1a1a1a" stroke-width="1.6"/><line x1="571.6" y1="443.8" x2="599.6" y2="443.8" stroke="#1a1a1a" stroke-width="1.6"/><rect x="413.4" y="290.3" width="7" height="7" fill="#cfcfcf" stroke="#555" stroke-width="0.6"/><rect x="511.9" y="290.2" width="7" height="7" fill="#cfcfcf" stroke="#555" stroke-width="0.6"/><rect x="642.4" y="290.5" width="7.2" height="6.8" fill="#cfcfcf" stroke="#555" stroke-width="0.6"/><rect x="511.9" y="327.5" width="7" height="7" fill="#cfcfcf" stroke="#555" stroke-width="0.6"/><rect x="511.7" y="401" width="7" height="7" fill="#cfcfcf" stroke="#555" stroke-width="0.6"/><rect x="642.4" y="346.8" width="7.2" height="7.2" fill="#cfcfcf" stroke="#555" stroke-width="0.6"/><rect x="511.7" y="439.8" width="7.2" height="5.9" fill="#cfcfcf" stroke="#555" stroke-width="0.6"/><rect x="642.4" y="439.8" width="7.2" height="5.9" fill="#cfcfcf" stroke="#555" stroke-width="0.6"/><rect x="413.4" y="401" width="7.1" height="8.5" fill="#cfcfcf" stroke="#555" stroke-width="0.6"/><rect x="413.4" y="438" width="7.1" height="8.5" fill="#cfcfcf" stroke="#555" stroke-width="0.6"/><line x1="420.5" y1="330.6" x2="478.6" y2="330.6" stroke="#1a1a1a" stroke-width="0.8"/><line x1="420.5" y1="334.1" x2="478.6" y2="334.1" stroke="#1a1a1a" stroke-width="0.8"/><line x1="475.6" y1="297.3" x2="475.6" y2="301.6" stroke="#1a1a1a" stroke-width="0.8"/><line x1="478.6" y1="297.3" x2="478.6" y2="301.6" stroke="#1a1a1a" stroke-width="0.8"/><line x1="475.6" y1="321.9" x2="475.6" y2="334.1" stroke="#1a1a1a" stroke-width="0.8"/><line x1="478.6" y1="321.9" x2="478.6" y2="334.1" stroke="#1a1a1a" stroke-width="0.8"/><line x1="475.6" y1="301.6" x2="478.6" y2="301.6" stroke="#1a1a1a" stroke-width="0.8"/><line x1="475.6" y1="321.9" x2="478.6" y2="321.9" stroke="#1a1a1a" stroke-width="0.8"/><rect x="425" y="299.5" width="50.6" height="3.3" fill="none" stroke="#777" stroke-width="0.6"/><path d="M457,301.6 A18.6,18.6 0 0 0 475.6,320.2" fill="none" stroke="#1a1a1a" stroke-width="0.8"/><path d="M486,292.5 A25,25 0 0 0 510.9,317.5" fill="none" stroke="#1a1a1a" stroke-width="0.8"/><path d="M483.6,401.3 A25,25 0 0 1 508.6,376.3" fill="none" stroke="#1a1a1a" stroke-width="0.8"/><line x1="508.6" y1="376.3" x2="508.6" y2="401.3" stroke="#1a1a1a" stroke-width="0.8"/><path d="M427.7,288 A19,11 0 0 1 465.8,288" fill="none" stroke="#b5b5b5" stroke-width="0.6"/><path d="M521.6,448.5 A25.4,25.4 0 0 0 572.4,448.5" fill="none" stroke="#b5b5b5" stroke-width="0.6"/><path d="M574.2,448.5 A25.4,25.4 0 0 0 625,448.5" fill="none" stroke="#b5b5b5" stroke-width="0.6"/><path d="M652.4,378 A18,18 0 0 1 652.4,414" fill="none" stroke="#b5b5b5" stroke-width="0.6"/><path d="M456.6,409.6 A12.7,12.7 0 0 0 482,409.6" fill="none" stroke="#b5b5b5" stroke-width="0.6"/><line x1="547" y1="297.3" x2="547" y2="324" stroke="#1a1a1a" stroke-width="0.8"/><line x1="554.8" y1="297.3" x2="554.8" y2="324" stroke="#1a1a1a" stroke-width="0.8"/><line x1="562.6" y1="297.3" x2="562.6" y2="324" stroke="#1a1a1a" stroke-width="0.8"/><line x1="570.4" y1="297.3" x2="570.4" y2="324" stroke="#1a1a1a" stroke-width="0.8"/><line x1="578.2" y1="297.3" x2="578.2" y2="324" stroke="#1a1a1a" stroke-width="0.8"/><line x1="586" y1="297.3" x2="586" y2="324" stroke="#1a1a1a" stroke-width="0.8"/><line x1="593.8" y1="297.3" x2="593.8" y2="324" stroke="#1a1a1a" stroke-width="0.8"/><line x1="601.6" y1="297.3" x2="601.6" y2="310.09" stroke="#1a1a1a" stroke-width="0.8"/><line x1="609.4" y1="297.3" x2="609.4" y2="297.3" stroke="#1a1a1a" stroke-width="0.8"/><line x1="547" y1="324" x2="592.8" y2="324" stroke="#1a1a1a" stroke-width="0.8"/><line x1="547" y1="310.5" x2="598.7" y2="310.5" stroke="#1a1a1a" stroke-width="0.8"/><circle cx="547" cy="310.5" r="1.1" fill="#1a1a1a" stroke="#1a1a1a" stroke-width="0.3"/><line x1="608.4" y1="297.8" x2="592.8" y2="326" stroke="#1a1a1a" stroke-width="0.9"/><text x="562.5" y="308.3" font-size="7.9" fill="#222" text-anchor="start" font-weight="normal">17 x 17,5</text><text x="562.5" y="318.6" font-size="7.9" fill="#222" text-anchor="start" font-weight="normal">16 x 28</text><line x1="578.2" y1="324" x2="578.2" y2="352" stroke="#1a1a1a" stroke-width="0.9" stroke-dasharray="3,2"/><line x1="586" y1="324" x2="586" y2="352" stroke="#1a1a1a" stroke-width="0.9" stroke-dasharray="3,2"/><line x1="593.8" y1="324" x2="593.8" y2="352" stroke="#1a1a1a" stroke-width="0.9" stroke-dasharray="3,2"/><line x1="601.6" y1="324" x2="601.6" y2="352" stroke="#1a1a1a" stroke-width="0.9" stroke-dasharray="3,2"/><line x1="609.4" y1="324" x2="609.4" y2="352" stroke="#1a1a1a" stroke-width="0.9" stroke-dasharray="3,2"/><line x1="617.2" y1="324" x2="617.2" y2="352" stroke="#1a1a1a" stroke-width="0.9" stroke-dasharray="3,2"/><line x1="600.6" y1="312" x2="600.6" y2="324" stroke="#1a1a1a" stroke-width="0.9" stroke-dasharray="3,2"/><line x1="608.4" y1="298" x2="608.4" y2="324" stroke="#1a1a1a" stroke-width="0.9" stroke-dasharray="3,2"/><line x1="616.2" y1="298" x2="616.2" y2="310.5" stroke="#1a1a1a" stroke-width="0.9" stroke-dasharray="3,2"/><polyline points="600.6,310.5 630,310.5 630,337.8 578.2,337.8" fill="none" stroke="#1a1a1a" stroke-width="0.9" stroke-dasharray="3,2"/><line x1="592" y1="324" x2="642.4" y2="324" stroke="#1a1a1a" stroke-width="0.9" stroke-dasharray="3,2"/><line x1="578.2" y1="352.4" x2="630" y2="352.4" stroke="#1a1a1a" stroke-width="0.9" stroke-dasharray="3,2"/><polyline points="583,335 578.5,337.8 583,340.6" fill="none" stroke="#1a1a1a" stroke-width="0.8"/><line x1="420" y1="341.4" x2="674.4" y2="341.4" stroke="#1a1a1a" stroke-width="0.95"/><polyline points="674.4,341.4 674.4,337.1" fill="none" stroke="#1a1a1a" stroke-width="1.0"/><polygon points="674.4,330.3 678.2,337.1 670.6,337.1" fill="#fff" stroke="#1a1a1a" stroke-width="1.0"/><text x="673.9" y="349.8" font-size="8.2" fill="#222" text-anchor="middle" font-weight="normal">B</text><line x1="489.3" y1="200.2" x2="489.3" y2="511.6" stroke="#1a1a1a" stroke-width="0.95"/><polygon points="476.6,200.2 482.4,196.6 482.4,203.8" fill="#fff" stroke="#1a1a1a" stroke-width="1.0"/><line x1="482.4" y1="200.2" x2="489.3" y2="200.2" stroke="#1a1a1a" stroke-width="0.95"/><text x="490.9" y="201.8" font-size="8.2" fill="#222" text-anchor="start" font-weight="normal">A</text><polygon points="476.7,511.6 482.4,508.3 482.4,514.9" fill="#fff" stroke="#1a1a1a" stroke-width="1.0"/><line x1="482.4" y1="511.6" x2="489.3" y2="511.6" stroke="#1a1a1a" stroke-width="0.95"/><text x="490.9" y="513.9" font-size="8.2" fill="#222" text-anchor="start" font-weight="normal">A</text><circle cx="530.4" cy="345.2" r="3.9" fill="#1a1a1a" stroke="#1a1a1a" stroke-width="0.5"/><path d="M530.4,342 v6.4 M527.2,345.2 h6.4" fill="none" stroke="#fff" stroke-width="0.6"/><line x1="530.4" y1="345.2" x2="548" y2="345.2" stroke="#1a1a1a" stroke-width="0.7"/><text x="533.5" y="341.5" font-size="7" fill="#242424" text-anchor="start" font-weight="normal">+0.00</text><polyline points="423.4,251.3 521.4,251.3 521.4,288" fill="none" stroke="#1a1a1a" stroke-width="1.0" stroke-dasharray="3.5,2.5"/><polyline points="417.6,448 417.6,491.5 613.3,491.5 613.3,448.5" fill="none" stroke="#1a1a1a" stroke-width="1.0" stroke-dasharray="3.5,2.5"/><rect x="423" y="478.8" width="5.2" height="4.9" fill="none" stroke="#1a1a1a" stroke-width="0.8"/><rect x="512.8" y="478.8" width="5.2" height="4.9" fill="none" stroke="#1a1a1a" stroke-width="0.8"/><rect x="602.6" y="478.8" width="5.2" height="4.9" fill="none" stroke="#1a1a1a" stroke-width="0.8"/><path d="M421,307.8 h7.5 a4.8,4.8 0 0 1 0,9.6 h-7.5 z" fill="#3a8ae0" stroke="#2f78c8" stroke-width="1.0"/><path d="M423.5,310 h4.8 a2.6,2.6 0 0 1 0,5.2 h-4.8 z" fill="none" stroke="#fff" stroke-width="0.8"/><rect x="445.5" y="321" width="14.3" height="6" fill="#3a8ae0" stroke="#2f78c8" stroke-width="1.0" rx="2.5"/><rect x="436.5" y="334.3" width="42.1" height="16.5" fill="#eaf4fe" stroke="#2f78c8" stroke-width="1.0"/><line x1="453.1" y1="334.3" x2="453.1" y2="350.8" stroke="#2f78c8" stroke-width="0.9"/><line x1="461.3" y1="334.3" x2="461.3" y2="350.8" stroke="#2f78c8" stroke-width="0.9"/><circle cx="469.6" cy="343.3" r="0.9" fill="#2f78c8" stroke="#2f78c8" stroke-width="0.4"/><rect x="420.5" y="352" width="16" height="27" fill="#eaf4fe" stroke="#2f78c8" stroke-width="1.0"/><circle cx="428.8" cy="361.5" r="6.2" fill="#eaf4fe" stroke="#2f78c8" stroke-width="1.0"/><rect x="423" y="369.6" width="12" height="8.2" fill="#1f6fd6" stroke="#2f78c8" stroke-width="0.8"/><rect x="436.5" y="384.6" width="41.3" height="15" fill="#eaf4fe" stroke="#2f78c8" stroke-width="1.0"/><rect x="436.5" y="384.6" width="12.5" height="15" fill="#eaf4fe" stroke="#2f78c8" stroke-width="0.8"/><circle cx="440.3" cy="388.4" r="2.3" fill="#eaf4fe" stroke="#2f78c8" stroke-width="0.8"/><circle cx="446" cy="388.4" r="2.3" fill="#eaf4fe" stroke="#2f78c8" stroke-width="0.8"/><circle cx="440.3" cy="395.6" r="2.3" fill="#eaf4fe" stroke="#2f78c8" stroke-width="0.8"/><circle cx="446" cy="395.6" r="2.3" fill="#eaf4fe" stroke="#2f78c8" stroke-width="0.8"/><line x1="420.5" y1="384.6" x2="436.5" y2="384.6" stroke="#2f78c8" stroke-width="0.8"/><ellipse cx="550.4" cy="352.4" rx="7.3" ry="10.6" fill="#eaf4fe" stroke="#2f78c8" stroke-width="1.5"/><ellipse cx="550.4" cy="394.4" rx="7.3" ry="10.6" fill="#eaf4fe" stroke="#2f78c8" stroke-width="1.5"/><ellipse cx="539.2" cy="363.2" rx="10.6" ry="6.9" fill="#eaf4fe" stroke="#2f78c8" stroke-width="1.5"/><ellipse cx="539.2" cy="384" rx="10.6" ry="6.9" fill="#eaf4fe" stroke="#2f78c8" stroke-width="1.5"/><ellipse cx="561.6" cy="363.2" rx="10.6" ry="6.9" fill="#eaf4fe" stroke="#2f78c8" stroke-width="1.5"/><ellipse cx="561.6" cy="384" rx="10.6" ry="6.9" fill="#eaf4fe" stroke="#2f78c8" stroke-width="1.5"/><rect x="539.2" y="352.4" width="22.4" height="42" fill="#eaf4fe" stroke="#2f78c8" stroke-width="1.0"/><rect x="582" y="352.4" width="53.7" height="23.5" fill="#eaf4fe" stroke="#2f78c8" stroke-width="1.0"/><line x1="583.5" y1="355.5" x2="634.2" y2="355.5" stroke="#2f78c8" stroke-width="0.8"/><line x1="600.6" y1="355.5" x2="600.6" y2="375.9" stroke="#2f78c8" stroke-width="0.8"/><line x1="616.2" y1="355.5" x2="616.2" y2="375.9" stroke="#2f78c8" stroke-width="0.8"/><line x1="584" y1="355.5" x2="584" y2="375.9" stroke="#2f78c8" stroke-width="0.8"/><line x1="633.7" y1="355.5" x2="633.7" y2="375.9" stroke="#2f78c8" stroke-width="0.8"/><rect x="598.7" y="391.5" width="32.2" height="16.5" fill="#eaf4fe" stroke="#2f78c8" stroke-width="1.0"/><rect x="600.6" y="428" width="41.8" height="10.8" fill="#eaf4fe" stroke="#2f78c8" stroke-width="1.0"/><ellipse cx="621" cy="433.4" rx="9" ry="1.6" fill="#eaf4fe" stroke="#2f78c8" stroke-width="1.3"/><line x1="609" y1="433.4" x2="633" y2="433.4" stroke="#2f78c8" stroke-width="0.8"/><rect x="518.7" y="427" width="11.3" height="11.8" fill="#111" stroke="#111" stroke-width="0.5"/><path d="M522.5,434.5 l2,-3.5" fill="none" stroke="#fff" stroke-width="0.9"/><rect x="389.5" y="348" width="22.5" height="53" fill="#eaf4fe" stroke="#2f78c8" stroke-width="1.0"/><line x1="407.5" y1="348" x2="407.5" y2="401" stroke="#2f78c8" stroke-width="0.8"/><line x1="389.5" y1="365.6" x2="407.5" y2="365.6" stroke="#2f78c8" stroke-width="0.8"/><line x1="389.5" y1="383.3" x2="407.5" y2="383.3" stroke="#2f78c8" stroke-width="0.8"/><line x1="389.5" y1="350.5" x2="407.5" y2="350.5" stroke="#2f78c8" stroke-width="0.8"/><line x1="389.5" y1="398.5" x2="407.5" y2="398.5" stroke="#2f78c8" stroke-width="0.8"/><rect x="402.4" y="324.4" width="10.8" height="8.6" fill="#111" stroke="#111" stroke-width="0.5"/><path d="M406,330.5 l2.4,-3.2" fill="none" stroke="#fff" stroke-width="0.9"/><rect x="412.5" y="253.3" width="7.5" height="6.9" fill="#cfcfcf" stroke="#555" stroke-width="0.6"/><ellipse cx="438.2" cy="432.5" rx="7.8" ry="7.2" fill="#eaf4fe" stroke="#2f78c8" stroke-width="1.5" transform="rotate(45 438.2 432.5)"/><ellipse cx="459.6" cy="432.2" rx="7.8" ry="7.2" fill="#eaf4fe" stroke="#2f78c8" stroke-width="1.5" transform="rotate(-45 459.6 432.2)"/><ellipse cx="438.2" cy="455.3" rx="7.8" ry="7.2" fill="#eaf4fe" stroke="#2f78c8" stroke-width="1.5" transform="rotate(-45 438.2 455.3)"/><ellipse cx="459.6" cy="455.5" rx="7.8" ry="7.2" fill="#eaf4fe" stroke="#2f78c8" stroke-width="1.5" transform="rotate(45 459.6 455.5)"/><polygon points="449.4,432 461.4,444 449.4,456 437.4,444" fill="#eaf4fe" stroke="#2f78c8" stroke-width="1.0"/><ellipse cx="183.2" cy="376.8" rx="7.8" ry="7.2" fill="#eaf4fe" stroke="#2f78c8" stroke-width="1.5" transform="rotate(45 183.2 376.8)"/><ellipse cx="205.4" cy="376.8" rx="7.8" ry="7.2" fill="#eaf4fe" stroke="#2f78c8" stroke-width="1.5" transform="rotate(-45 205.4 376.8)"/><ellipse cx="183.2" cy="399.8" rx="7.8" ry="7.2" fill="#eaf4fe" stroke="#2f78c8" stroke-width="1.5" transform="rotate(-45 183.2 399.8)"/><ellipse cx="205.4" cy="399.8" rx="7.8" ry="7.2" fill="#eaf4fe" stroke="#2f78c8" stroke-width="1.5" transform="rotate(45 205.4 399.8)"/><polygon points="194.3,376.3 206.3,388.3 194.3,400.3 182.3,388.3" fill="#eaf4fe" stroke="#2f78c8" stroke-width="1.0"/><text x="458" y="256.5" font-size="7.5" fill="#242424" text-anchor="start" font-weight="normal">natkriveni</text><text x="458" y="265.5" font-size="7.5" fill="#242424" text-anchor="start" font-weight="normal">ulaz</text><text x="458" y="275" font-size="7.5" fill="#242424" text-anchor="start" font-weight="normal">P= 4,90m²</text><text x="498" y="246" font-size="7.5" fill="#242424" text-anchor="start" font-weight="normal">ulaz</text><text x="501" y="255.5" font-size="7.5" fill="#242424" text-anchor="start" font-weight="normal">stan1</text><polygon points="495.5,259 507,259 501.2,265" fill="#111" stroke="#111" stroke-width="0.5"/><text x="431" y="302.2" font-size="6" fill="#666" text-anchor="start" font-weight="normal">p= 100cm</text><text x="436.5" y="319.5" font-size="7.5" fill="#242424" text-anchor="start" font-weight="normal">wc</text><text x="434.5" y="326.5" font-size="7.5" fill="#242424" text-anchor="start" font-weight="normal">P= 2,33 m²</text><text x="499.5" y="333" font-size="7.5" fill="#242424" text-anchor="start" font-weight="normal" transform="rotate(-90 499.5 333)">hodnik</text><text x="508.6" y="333" font-size="7.5" fill="#242424" text-anchor="start" font-weight="normal" transform="rotate(-90 508.6 333)">P= 4,09m²</text><text x="447.8" y="366" font-size="7.4" fill="#242424" text-anchor="start" font-weight="normal">kuhinja</text><text x="447.5" y="375" font-size="7.4" fill="#242424" text-anchor="start" font-weight="normal">P= 8,88 m²</text><text x="544" y="413.5" font-size="7.4" fill="#242424" text-anchor="start" font-weight="normal">dnevni boravak</text><text x="544" y="422.8" font-size="7.4" fill="#242424" text-anchor="start" font-weight="normal">i blagovaonica</text><text x="544" y="432" font-size="7.4" fill="#242424" text-anchor="start" font-weight="normal">P= 19,13 m²</text><text x="640.3" y="410" font-size="7.2" fill="#242424" text-anchor="start" font-weight="normal" transform="rotate(-90 640.3 410)">p= 100cm</text><text x="463.4" y="458.3" font-size="7.5" fill="#242424" text-anchor="start" font-weight="normal">natkrivena</text><text x="463.4" y="467.5" font-size="7.5" fill="#242424" text-anchor="start" font-weight="normal">terasa</text><text x="463.4" y="476.8" font-size="7.5" fill="#242424" text-anchor="start" font-weight="normal">P= 15,98 m²</text><circle cx="262.27" cy="184.59" r="6.9" fill="#fff" stroke="#1a1a1a" stroke-width="0.8"/><text x="262.27" y="187.59" font-size="8.4" fill="#222" text-anchor="middle" font-weight="normal">P1</text><circle cx="208.27" cy="259.21" r="6.9" fill="#fff" stroke="#1a1a1a" stroke-width="0.8"/><text x="208.27" y="262.21" font-size="8.4" fill="#222" text-anchor="middle" font-weight="normal">P5</text><circle cx="178.29" cy="299.15" r="6.9" fill="#fff" stroke="#1a1a1a" stroke-width="0.8"/><text x="178.29" y="302.15" font-size="8.4" fill="#222" text-anchor="middle" font-weight="normal">P2</text><circle cx="221.7" cy="389.96" r="6.9" fill="#fff" stroke="#1a1a1a" stroke-width="0.8"/><text x="221.7" y="392.96" font-size="8.4" fill="#222" text-anchor="middle" font-weight="normal">P1</text><circle cx="245.77" cy="397.5" r="6.9" fill="#fff" stroke="#1a1a1a" stroke-width="0.8"/><text x="245.77" y="400.5" font-size="8.4" fill="#222" text-anchor="middle" font-weight="normal">P5</text><circle cx="304.85" cy="446.13" r="6.9" fill="#fff" stroke="#1a1a1a" stroke-width="0.8"/><text x="304.85" y="449.13" font-size="8.4" fill="#222" text-anchor="middle" font-weight="normal">P3</text><line x1="446.5" y1="269.4" x2="446.5" y2="300" stroke="#1a1a1a" stroke-width="0.8"/><text x="444.3" y="276.8" font-size="7.3" fill="#222" text-anchor="middle" font-weight="normal" transform="rotate(-90 444.3 276.8)">80</text><text x="453.9" y="276.8" font-size="7.3" fill="#222" text-anchor="middle" font-weight="normal" transform="rotate(-90 453.9 276.8)">120</text><circle cx="446.5" cy="262.5" r="6.9" fill="#fff" stroke="#1a1a1a" stroke-width="0.8"/><text x="446.5" y="265.5" font-size="8.4" fill="#222" text-anchor="middle" font-weight="normal">P2</text><line x1="498.6" y1="279.2" x2="498.6" y2="303" stroke="#1a1a1a" stroke-width="0.8"/><text x="496.4" y="287.5" font-size="7.3" fill="#222" text-anchor="middle" font-weight="normal" transform="rotate(-90 496.4 287.5)">100</text><text x="506" y="287.5" font-size="7.3" fill="#222" text-anchor="middle" font-weight="normal" transform="rotate(-90 506 287.5)">220</text><circle cx="498.6" cy="272.3" r="6.9" fill="#fff" stroke="#1a1a1a" stroke-width="0.8"/><text x="498.6" y="275.3" font-size="8.4" fill="#222" text-anchor="middle" font-weight="normal">P3</text><line x1="468.3" y1="430.9" x2="468.3" y2="397.8" stroke="#1a1a1a" stroke-width="0.8"/><text x="466.1" y="423.5" font-size="7.3" fill="#222" text-anchor="middle" font-weight="normal" transform="rotate(-90 466.1 423.5)">100</text><text x="475.7" y="423.5" font-size="7.3" fill="#222" text-anchor="middle" font-weight="normal" transform="rotate(-90 475.7 423.5)">120</text><circle cx="468.3" cy="437.8" r="6.9" fill="#fff" stroke="#1a1a1a" stroke-width="0.8"/><text x="468.3" y="440.8" font-size="8.4" fill="#222" text-anchor="middle" font-weight="normal">P1</text><line x1="495.6" y1="430.9" x2="495.6" y2="397.8" stroke="#1a1a1a" stroke-width="0.8"/><text x="493.4" y="423.5" font-size="7.3" fill="#222" text-anchor="middle" font-weight="normal" transform="rotate(-90 493.4 423.5)">100</text><text x="503" y="423.5" font-size="7.3" fill="#222" text-anchor="middle" font-weight="normal" transform="rotate(-90 503 423.5)">220</text><circle cx="495.6" cy="437.8" r="6.9" fill="#fff" stroke="#1a1a1a" stroke-width="0.8"/><text x="495.6" y="440.8" font-size="8.4" fill="#222" text-anchor="middle" font-weight="normal">P5</text><line x1="573.3" y1="465.1" x2="573.3" y2="432" stroke="#1a1a1a" stroke-width="0.8"/><text x="571.1" y="456.5" font-size="7.3" fill="#222" text-anchor="middle" font-weight="normal" transform="rotate(-90 571.1 456.5)">200</text><text x="580.7" y="456.5" font-size="7.3" fill="#222" text-anchor="middle" font-weight="normal" transform="rotate(-90 580.7 456.5)">220</text><circle cx="573.3" cy="472" r="6.9" fill="#fff" stroke="#1a1a1a" stroke-width="0.8"/><text x="573.3" y="475" font-size="8.4" fill="#222" text-anchor="middle" font-weight="normal">P3</text><line x1="667.7" y1="397.3" x2="652.4" y2="397.3" stroke="#1a1a1a" stroke-width="0.8"/><text x="660" y="395.1" font-size="7.3" fill="#222" text-anchor="middle" font-weight="normal">100</text><text x="660" y="404.7" font-size="7.3" fill="#222" text-anchor="middle" font-weight="normal">120</text><circle cx="674.6" cy="397.3" r="6.9" fill="#fff" stroke="#1a1a1a" stroke-width="0.8"/><text x="674.6" y="400.3" font-size="8.4" fill="#222" text-anchor="middle" font-weight="normal">P1</text><text x="828.8" y="116.8" font-size="9.6" font-weight="bold" fill="#111">Dvo</text></svg>
</body></html>
